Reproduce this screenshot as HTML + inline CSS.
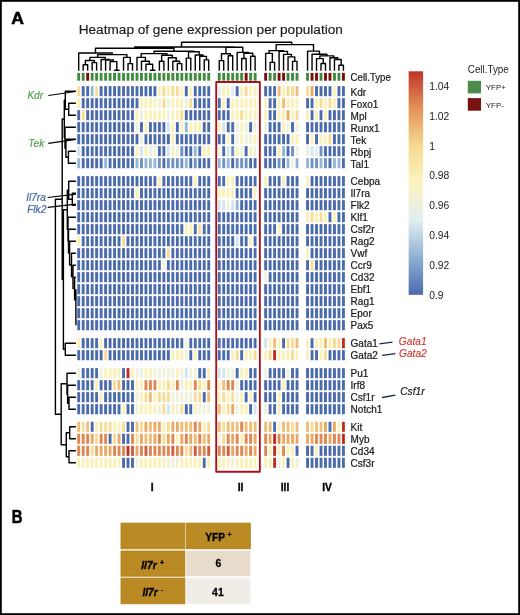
<!DOCTYPE html>
<html><head><meta charset="utf-8"><title>Heatmap</title>
<style>
html,body{margin:0;padding:0;background:#fff;}
body{width:520px;height:615px;overflow:hidden;font-family:"Liberation Sans",sans-serif;}
</style></head><body>
<div style="will-change:transform;width:520px;height:615px">
<svg width="520" height="615" viewBox="0 0 520 615" style="display:block;font-family:'Liberation Sans', sans-serif">
<rect x="0" y="0" width="520" height="615" fill="#fff"/>
<g>
<text x="11.2" y="24.0" font-size="17.4" font-weight="bold" fill="#000" stroke="#000" stroke-width="0.6" textLength="12.7" lengthAdjust="spacingAndGlyphs">A</text>
<text x="78.7" y="34.15" font-size="12.6" fill="#1a1a1a" stroke="#1a1a1a" stroke-width="0.15" textLength="264.2" lengthAdjust="spacingAndGlyphs" transform="translate(0 34.15) scale(1 1.05) translate(0 -34.15)">Heatmap of gene expression per population</text>
<path d="M83.18 70.80V64.70H87.67V70.80M92.15 70.80V62.60H96.63V70.80M85.43 64.70V60.50H94.39V62.60M114.57 70.80V70.20H119.05V70.80M110.08 70.80V61.60H116.81V70.20M105.60 70.80V60.00H113.44V61.60M101.12 70.80V59.50H109.52V60.00M89.91 60.50V57.40H105.32V59.50M128.01 70.80V63.60H132.50V70.80M123.53 70.80V57.40H130.26V63.60M97.61 57.40V54.60H126.89V57.40M78.70 70.80V53.00H112.25V54.60M150.43 70.80V70.20H154.91V70.80M145.95 70.80V64.30H152.67V70.20M141.46 70.80V61.20H149.31V64.30M136.98 70.80V57.40H145.39V61.20M159.40 70.80V61.20H163.88V70.80M177.33 70.80V63.60H181.81V70.80M172.84 70.80V61.20H179.57V63.60M168.36 70.80V57.70H176.21V61.20M161.64 61.20V55.30H172.28V57.70M141.18 57.40V53.60H166.96V55.30M186.29 70.80V58.10H190.78V70.80M204.23 70.80V59.90H208.71V70.80M199.74 70.80V56.40H206.47V59.90M195.26 70.80V55.00H203.10V56.40M188.53 58.10V51.80H199.18V55.00M154.07 53.60V51.20H193.86V51.80M95.48 53.00V48.30H173.97V51.20M219.24 70.80V60.60H223.72V70.80M228.21 70.80V55.70H232.69V70.80M221.48 60.60V53.70H230.45V55.70M241.66 70.80V58.55H246.14V70.80M250.62 70.80V56.20H255.11V70.80M243.90 58.55V53.30H252.86V56.20M237.17 70.80V52.40H248.38V53.30M225.97 53.70V47.20H242.78V52.40M134.72 48.30V46.95H234.37V47.20M270.12 70.80V62.40H274.60V70.80M265.64 70.80V53.40H272.36V62.40M292.54 70.80V61.40H297.02V70.80M288.05 70.80V56.90H294.78V61.40M283.57 70.80V54.40H291.42V56.90M279.09 70.80V51.40H287.49V54.40M269.00 53.40V50.60H283.29V51.40M321.00 70.80V63.50H325.48V70.80M316.52 70.80V58.60H323.24V63.50M338.93 70.80V65.20H343.42V70.80M334.45 70.80V59.50H341.17V65.20M329.97 70.80V57.70H337.81V59.50M319.88 58.60V55.90H333.89V57.70M312.04 70.80V54.20H326.89V55.90M307.55 70.80V51.10H319.46V54.20M276.15 50.60V44.60H313.51V51.10M181.52 46.95V42.30H291.80V44.60" fill="none" stroke="#000" stroke-width="1.4" stroke-linecap="butt" stroke-linejoin="round"/>
<path d="M75.90 103.20H68.70V115.20H75.90M75.90 91.20H65.30V109.20H68.70M75.90 151.20H68.40V163.20H75.90M75.90 139.20H65.90V157.20H68.40M75.90 127.20H65.00V148.20H65.90M65.30 100.20H64.30V137.70H65.00M75.90 193.20H72.30V205.20H75.90M75.90 181.20H68.70V199.20H72.30M75.90 313.20H75.90V325.20H75.90M75.90 301.20H75.90V319.20H75.90M75.90 289.20H75.90V310.20H75.90M75.90 277.20H74.60V299.70H75.90M75.90 265.20H73.00V288.45H74.60M75.90 253.20H71.50V276.82H73.00M75.90 241.20H69.60V265.01H71.50M75.90 229.20H68.50V253.11H69.60M75.90 217.20H68.00V241.15H68.50M68.70 190.20H67.30V229.18H68.00M75.90 343.20H65.30V355.20H75.90M67.30 209.69H63.40V349.20H65.30M64.30 118.95H62.20V279.44H63.40M75.90 397.20H69.00V409.20H75.90M75.90 385.20H67.60V403.20H69.00M75.90 373.20H67.00V394.20H67.60M75.90 426.80H69.70V438.80H75.90M75.90 450.80H69.00V462.80H75.90M69.70 432.80H66.30V456.80H69.00M67.00 383.70H61.20V444.80H66.30M62.20 199.20H55.40V414.25H61.20" fill="none" stroke="#000" stroke-width="1.4" stroke-linecap="butt" stroke-linejoin="round"/>
<rect x="77.26" y="72.9" width="2.88" height="7.8" fill="#3f8a3f"/>
<rect x="81.74" y="72.9" width="2.88" height="7.8" fill="#3f8a3f"/>
<rect x="86.23" y="72.9" width="2.88" height="7.8" fill="#7a0c0c"/>
<rect x="90.71" y="72.9" width="2.88" height="7.8" fill="#3f8a3f"/>
<rect x="95.19" y="72.9" width="2.88" height="7.8" fill="#3f8a3f"/>
<rect x="99.67" y="72.9" width="2.88" height="7.8" fill="#3f8a3f"/>
<rect x="104.16" y="72.9" width="2.88" height="7.8" fill="#3f8a3f"/>
<rect x="108.64" y="72.9" width="2.88" height="7.8" fill="#3f8a3f"/>
<rect x="113.12" y="72.9" width="2.88" height="7.8" fill="#3f8a3f"/>
<rect x="117.61" y="72.9" width="2.88" height="7.8" fill="#3f8a3f"/>
<rect x="122.09" y="72.9" width="2.88" height="7.8" fill="#3f8a3f"/>
<rect x="126.57" y="72.9" width="2.88" height="7.8" fill="#3f8a3f"/>
<rect x="131.06" y="72.9" width="2.88" height="7.8" fill="#3f8a3f"/>
<rect x="135.54" y="72.9" width="2.88" height="7.8" fill="#3f8a3f"/>
<rect x="140.02" y="72.9" width="2.88" height="7.8" fill="#3f8a3f"/>
<rect x="144.50" y="72.9" width="2.88" height="7.8" fill="#3f8a3f"/>
<rect x="148.99" y="72.9" width="2.88" height="7.8" fill="#3f8a3f"/>
<rect x="153.47" y="72.9" width="2.88" height="7.8" fill="#3f8a3f"/>
<rect x="157.95" y="72.9" width="2.88" height="7.8" fill="#3f8a3f"/>
<rect x="162.44" y="72.9" width="2.88" height="7.8" fill="#3f8a3f"/>
<rect x="166.92" y="72.9" width="2.88" height="7.8" fill="#3f8a3f"/>
<rect x="171.40" y="72.9" width="2.88" height="7.8" fill="#3f8a3f"/>
<rect x="175.89" y="72.9" width="2.88" height="7.8" fill="#3f8a3f"/>
<rect x="180.37" y="72.9" width="2.88" height="7.8" fill="#3f8a3f"/>
<rect x="184.85" y="72.9" width="2.88" height="7.8" fill="#3f8a3f"/>
<rect x="189.33" y="72.9" width="2.88" height="7.8" fill="#3f8a3f"/>
<rect x="193.82" y="72.9" width="2.88" height="7.8" fill="#3f8a3f"/>
<rect x="198.30" y="72.9" width="2.88" height="7.8" fill="#3f8a3f"/>
<rect x="202.78" y="72.9" width="2.88" height="7.8" fill="#3f8a3f"/>
<rect x="207.27" y="72.9" width="2.88" height="7.8" fill="#3f8a3f"/>
<rect x="217.80" y="72.9" width="2.88" height="7.8" fill="#3f8a3f"/>
<rect x="222.28" y="72.9" width="2.88" height="7.8" fill="#3f8a3f"/>
<rect x="226.77" y="72.9" width="2.88" height="7.8" fill="#3f8a3f"/>
<rect x="231.25" y="72.9" width="2.88" height="7.8" fill="#3f8a3f"/>
<rect x="235.73" y="72.9" width="2.88" height="7.8" fill="#3f8a3f"/>
<rect x="240.22" y="72.9" width="2.88" height="7.8" fill="#3f8a3f"/>
<rect x="244.70" y="72.9" width="2.88" height="7.8" fill="#7a0c0c"/>
<rect x="249.18" y="72.9" width="2.88" height="7.8" fill="#3f8a3f"/>
<rect x="253.66" y="72.9" width="2.88" height="7.8" fill="#3f8a3f"/>
<rect x="264.20" y="72.9" width="2.88" height="7.8" fill="#7a0c0c"/>
<rect x="268.68" y="72.9" width="2.88" height="7.8" fill="#3f8a3f"/>
<rect x="273.16" y="72.9" width="2.88" height="7.8" fill="#3f8a3f"/>
<rect x="277.65" y="72.9" width="2.88" height="7.8" fill="#7a0c0c"/>
<rect x="282.13" y="72.9" width="2.88" height="7.8" fill="#7a0c0c"/>
<rect x="286.61" y="72.9" width="2.88" height="7.8" fill="#3f8a3f"/>
<rect x="291.10" y="72.9" width="2.88" height="7.8" fill="#3f8a3f"/>
<rect x="295.58" y="72.9" width="2.88" height="7.8" fill="#3f8a3f"/>
<rect x="306.11" y="72.9" width="2.88" height="7.8" fill="#3f8a3f"/>
<rect x="310.59" y="72.9" width="2.88" height="7.8" fill="#7a0c0c"/>
<rect x="315.08" y="72.9" width="2.88" height="7.8" fill="#7a0c0c"/>
<rect x="319.56" y="72.9" width="2.88" height="7.8" fill="#3f8a3f"/>
<rect x="324.04" y="72.9" width="2.88" height="7.8" fill="#7a0c0c"/>
<rect x="328.53" y="72.9" width="2.88" height="7.8" fill="#7a0c0c"/>
<rect x="333.01" y="72.9" width="2.88" height="7.8" fill="#3f8a3f"/>
<rect x="337.49" y="72.9" width="2.88" height="7.8" fill="#3f8a3f"/>
<rect x="341.97" y="72.9" width="2.88" height="7.8" fill="#7a0c0c"/>
<rect x="77.26" y="86.15" width="2.88" height="10.10" fill="#f6dc94"/>
<rect x="81.74" y="86.15" width="2.88" height="10.10" fill="#4a6aae"/>
<rect x="86.23" y="86.15" width="2.88" height="10.10" fill="#4a6aae"/>
<rect x="90.71" y="86.15" width="2.88" height="10.10" fill="#93b6d6"/>
<rect x="95.19" y="86.15" width="2.88" height="10.10" fill="#f6dc94"/>
<rect x="99.67" y="86.15" width="2.88" height="10.10" fill="#4a6aae"/>
<rect x="104.16" y="86.15" width="2.88" height="10.10" fill="#4a6aae"/>
<rect x="108.64" y="86.15" width="2.88" height="10.10" fill="#4a6aae"/>
<rect x="113.12" y="86.15" width="2.88" height="10.10" fill="#4a6aae"/>
<rect x="117.61" y="86.15" width="2.88" height="10.10" fill="#4a6aae"/>
<rect x="122.09" y="86.15" width="2.88" height="10.10" fill="#4a6aae"/>
<rect x="126.57" y="86.15" width="2.88" height="10.10" fill="#4a6aae"/>
<rect x="131.06" y="86.15" width="2.88" height="10.10" fill="#4a6aae"/>
<rect x="135.54" y="86.15" width="2.88" height="10.10" fill="#4a6aae"/>
<rect x="140.02" y="86.15" width="2.88" height="10.10" fill="#4a6aae"/>
<rect x="144.50" y="86.15" width="2.88" height="10.10" fill="#4a6aae"/>
<rect x="148.99" y="86.15" width="2.88" height="10.10" fill="#4a6aae"/>
<rect x="153.47" y="86.15" width="2.88" height="10.10" fill="#4a6aae"/>
<rect x="157.95" y="86.15" width="2.88" height="10.10" fill="#faf1b8"/>
<rect x="162.44" y="86.15" width="2.88" height="10.10" fill="#f6dc94"/>
<rect x="166.92" y="86.15" width="2.88" height="10.10" fill="#faf1b8"/>
<rect x="171.40" y="86.15" width="2.88" height="10.10" fill="#f6dc94"/>
<rect x="175.89" y="86.15" width="2.88" height="10.10" fill="#f6dc94"/>
<rect x="180.37" y="86.15" width="2.88" height="10.10" fill="#faf1b8"/>
<rect x="184.85" y="86.15" width="2.88" height="10.10" fill="#4a6aae"/>
<rect x="189.33" y="86.15" width="2.88" height="10.10" fill="#faf1b8"/>
<rect x="193.82" y="86.15" width="2.88" height="10.10" fill="#4a6aae"/>
<rect x="198.30" y="86.15" width="2.88" height="10.10" fill="#4a6aae"/>
<rect x="202.78" y="86.15" width="2.88" height="10.10" fill="#4a6aae"/>
<rect x="207.27" y="86.15" width="2.88" height="10.10" fill="#4a6aae"/>
<rect x="217.80" y="86.15" width="2.88" height="10.10" fill="#e2eef0"/>
<rect x="222.28" y="86.15" width="2.88" height="10.10" fill="#faf1b8"/>
<rect x="226.77" y="86.15" width="2.88" height="10.10" fill="#faf1b8"/>
<rect x="231.25" y="86.15" width="2.88" height="10.10" fill="#e2eef0"/>
<rect x="235.73" y="86.15" width="2.88" height="10.10" fill="#4a6aae"/>
<rect x="240.22" y="86.15" width="2.88" height="10.10" fill="#faf1b8"/>
<rect x="244.70" y="86.15" width="2.88" height="10.10" fill="#f6dc94"/>
<rect x="249.18" y="86.15" width="2.88" height="10.10" fill="#faf1b8"/>
<rect x="253.66" y="86.15" width="2.88" height="10.10" fill="#faf1b8"/>
<rect x="264.20" y="86.15" width="2.88" height="10.10" fill="#4a6aae"/>
<rect x="268.68" y="86.15" width="2.88" height="10.10" fill="#4a6aae"/>
<rect x="273.16" y="86.15" width="2.88" height="10.10" fill="#4a6aae"/>
<rect x="277.65" y="86.15" width="2.88" height="10.10" fill="#efbd77"/>
<rect x="282.13" y="86.15" width="2.88" height="10.10" fill="#faf1b8"/>
<rect x="286.61" y="86.15" width="2.88" height="10.10" fill="#f6dc94"/>
<rect x="291.10" y="86.15" width="2.88" height="10.10" fill="#f6dc94"/>
<rect x="295.58" y="86.15" width="2.88" height="10.10" fill="#efbd77"/>
<rect x="306.11" y="86.15" width="2.88" height="10.10" fill="#f6dc94"/>
<rect x="310.59" y="86.15" width="2.88" height="10.10" fill="#eba862"/>
<rect x="315.08" y="86.15" width="2.88" height="10.10" fill="#4a6aae"/>
<rect x="319.56" y="86.15" width="2.88" height="10.10" fill="#4a6aae"/>
<rect x="324.04" y="86.15" width="2.88" height="10.10" fill="#4a6aae"/>
<rect x="328.53" y="86.15" width="2.88" height="10.10" fill="#4a6aae"/>
<rect x="333.01" y="86.15" width="2.88" height="10.10" fill="#faf1b8"/>
<rect x="337.49" y="86.15" width="2.88" height="10.10" fill="#4a6aae"/>
<rect x="341.97" y="86.15" width="2.88" height="10.10" fill="#4a6aae"/>
<rect x="77.26" y="98.15" width="2.88" height="10.10" fill="#faf1b8"/>
<rect x="81.74" y="98.15" width="2.88" height="10.10" fill="#4a6aae"/>
<rect x="86.23" y="98.15" width="2.88" height="10.10" fill="#4a6aae"/>
<rect x="90.71" y="98.15" width="2.88" height="10.10" fill="#4a6aae"/>
<rect x="95.19" y="98.15" width="2.88" height="10.10" fill="#4a6aae"/>
<rect x="99.67" y="98.15" width="2.88" height="10.10" fill="#4a6aae"/>
<rect x="104.16" y="98.15" width="2.88" height="10.10" fill="#4a6aae"/>
<rect x="108.64" y="98.15" width="2.88" height="10.10" fill="#4a6aae"/>
<rect x="113.12" y="98.15" width="2.88" height="10.10" fill="#4a6aae"/>
<rect x="117.61" y="98.15" width="2.88" height="10.10" fill="#4a6aae"/>
<rect x="122.09" y="98.15" width="2.88" height="10.10" fill="#4a6aae"/>
<rect x="126.57" y="98.15" width="2.88" height="10.10" fill="#4a6aae"/>
<rect x="131.06" y="98.15" width="2.88" height="10.10" fill="#4a6aae"/>
<rect x="135.54" y="98.15" width="2.88" height="10.10" fill="#4a6aae"/>
<rect x="140.02" y="98.15" width="2.88" height="10.10" fill="#faf1b8"/>
<rect x="144.50" y="98.15" width="2.88" height="10.10" fill="#faf1b8"/>
<rect x="148.99" y="98.15" width="2.88" height="10.10" fill="#faf1b8"/>
<rect x="153.47" y="98.15" width="2.88" height="10.10" fill="#faf1b8"/>
<rect x="157.95" y="98.15" width="2.88" height="10.10" fill="#eef1dc"/>
<rect x="162.44" y="98.15" width="2.88" height="10.10" fill="#f6dc94"/>
<rect x="166.92" y="98.15" width="2.88" height="10.10" fill="#eef1dc"/>
<rect x="171.40" y="98.15" width="2.88" height="10.10" fill="#faf1b8"/>
<rect x="175.89" y="98.15" width="2.88" height="10.10" fill="#faf1b8"/>
<rect x="180.37" y="98.15" width="2.88" height="10.10" fill="#faf1b8"/>
<rect x="184.85" y="98.15" width="2.88" height="10.10" fill="#eef1dc"/>
<rect x="189.33" y="98.15" width="2.88" height="10.10" fill="#f6dc94"/>
<rect x="193.82" y="98.15" width="2.88" height="10.10" fill="#4a6aae"/>
<rect x="198.30" y="98.15" width="2.88" height="10.10" fill="#4a6aae"/>
<rect x="202.78" y="98.15" width="2.88" height="10.10" fill="#4a6aae"/>
<rect x="207.27" y="98.15" width="2.88" height="10.10" fill="#4a6aae"/>
<rect x="217.80" y="98.15" width="2.88" height="10.10" fill="#4a6aae"/>
<rect x="222.28" y="98.15" width="2.88" height="10.10" fill="#faf1b8"/>
<rect x="226.77" y="98.15" width="2.88" height="10.10" fill="#4a6aae"/>
<rect x="231.25" y="98.15" width="2.88" height="10.10" fill="#faf1b8"/>
<rect x="235.73" y="98.15" width="2.88" height="10.10" fill="#faf1b8"/>
<rect x="240.22" y="98.15" width="2.88" height="10.10" fill="#faf1b8"/>
<rect x="244.70" y="98.15" width="2.88" height="10.10" fill="#faf1b8"/>
<rect x="249.18" y="98.15" width="2.88" height="10.10" fill="#faf1b8"/>
<rect x="253.66" y="98.15" width="2.88" height="10.10" fill="#faf1b8"/>
<rect x="264.20" y="98.15" width="2.88" height="10.10" fill="#faf1b8"/>
<rect x="268.68" y="98.15" width="2.88" height="10.10" fill="#4a6aae"/>
<rect x="273.16" y="98.15" width="2.88" height="10.10" fill="#4a6aae"/>
<rect x="277.65" y="98.15" width="2.88" height="10.10" fill="#faf1b8"/>
<rect x="282.13" y="98.15" width="2.88" height="10.10" fill="#efbd77"/>
<rect x="286.61" y="98.15" width="2.88" height="10.10" fill="#faf1b8"/>
<rect x="291.10" y="98.15" width="2.88" height="10.10" fill="#faf1b8"/>
<rect x="295.58" y="98.15" width="2.88" height="10.10" fill="#faf1b8"/>
<rect x="306.11" y="98.15" width="2.88" height="10.10" fill="#4a6aae"/>
<rect x="310.59" y="98.15" width="2.88" height="10.10" fill="#4a6aae"/>
<rect x="315.08" y="98.15" width="2.88" height="10.10" fill="#faf1b8"/>
<rect x="319.56" y="98.15" width="2.88" height="10.10" fill="#f6dc94"/>
<rect x="324.04" y="98.15" width="2.88" height="10.10" fill="#faf1b8"/>
<rect x="328.53" y="98.15" width="2.88" height="10.10" fill="#f6dc94"/>
<rect x="333.01" y="98.15" width="2.88" height="10.10" fill="#faf1b8"/>
<rect x="337.49" y="98.15" width="2.88" height="10.10" fill="#4a6aae"/>
<rect x="341.97" y="98.15" width="2.88" height="10.10" fill="#4a6aae"/>
<rect x="77.26" y="110.15" width="2.88" height="10.10" fill="#4a6aae"/>
<rect x="81.74" y="110.15" width="2.88" height="10.10" fill="#f6dc94"/>
<rect x="86.23" y="110.15" width="2.88" height="10.10" fill="#4a6aae"/>
<rect x="90.71" y="110.15" width="2.88" height="10.10" fill="#4a6aae"/>
<rect x="95.19" y="110.15" width="2.88" height="10.10" fill="#4a6aae"/>
<rect x="99.67" y="110.15" width="2.88" height="10.10" fill="#4a6aae"/>
<rect x="104.16" y="110.15" width="2.88" height="10.10" fill="#4a6aae"/>
<rect x="108.64" y="110.15" width="2.88" height="10.10" fill="#4a6aae"/>
<rect x="113.12" y="110.15" width="2.88" height="10.10" fill="#4a6aae"/>
<rect x="117.61" y="110.15" width="2.88" height="10.10" fill="#4a6aae"/>
<rect x="122.09" y="110.15" width="2.88" height="10.10" fill="#4a6aae"/>
<rect x="126.57" y="110.15" width="2.88" height="10.10" fill="#4a6aae"/>
<rect x="131.06" y="110.15" width="2.88" height="10.10" fill="#4a6aae"/>
<rect x="135.54" y="110.15" width="2.88" height="10.10" fill="#faf1b8"/>
<rect x="140.02" y="110.15" width="2.88" height="10.10" fill="#eef1dc"/>
<rect x="144.50" y="110.15" width="2.88" height="10.10" fill="#faf1b8"/>
<rect x="148.99" y="110.15" width="2.88" height="10.10" fill="#faf1b8"/>
<rect x="153.47" y="110.15" width="2.88" height="10.10" fill="#faf1b8"/>
<rect x="157.95" y="110.15" width="2.88" height="10.10" fill="#faf1b8"/>
<rect x="162.44" y="110.15" width="2.88" height="10.10" fill="#faf1b8"/>
<rect x="166.92" y="110.15" width="2.88" height="10.10" fill="#eef1dc"/>
<rect x="171.40" y="110.15" width="2.88" height="10.10" fill="#faf1b8"/>
<rect x="175.89" y="110.15" width="2.88" height="10.10" fill="#faf1b8"/>
<rect x="180.37" y="110.15" width="2.88" height="10.10" fill="#f6dc94"/>
<rect x="184.85" y="110.15" width="2.88" height="10.10" fill="#4a6aae"/>
<rect x="189.33" y="110.15" width="2.88" height="10.10" fill="#4a6aae"/>
<rect x="193.82" y="110.15" width="2.88" height="10.10" fill="#4a6aae"/>
<rect x="198.30" y="110.15" width="2.88" height="10.10" fill="#4a6aae"/>
<rect x="202.78" y="110.15" width="2.88" height="10.10" fill="#4a6aae"/>
<rect x="207.27" y="110.15" width="2.88" height="10.10" fill="#4a6aae"/>
<rect x="217.80" y="110.15" width="2.88" height="10.10" fill="#4a6aae"/>
<rect x="222.28" y="110.15" width="2.88" height="10.10" fill="#4a6aae"/>
<rect x="226.77" y="110.15" width="2.88" height="10.10" fill="#4a6aae"/>
<rect x="231.25" y="110.15" width="2.88" height="10.10" fill="#faf1b8"/>
<rect x="235.73" y="110.15" width="2.88" height="10.10" fill="#faf1b8"/>
<rect x="240.22" y="110.15" width="2.88" height="10.10" fill="#f6dc94"/>
<rect x="244.70" y="110.15" width="2.88" height="10.10" fill="#faf1b8"/>
<rect x="249.18" y="110.15" width="2.88" height="10.10" fill="#faf1b8"/>
<rect x="253.66" y="110.15" width="2.88" height="10.10" fill="#faf1b8"/>
<rect x="264.20" y="110.15" width="2.88" height="10.10" fill="#faf1b8"/>
<rect x="268.68" y="110.15" width="2.88" height="10.10" fill="#4a6aae"/>
<rect x="273.16" y="110.15" width="2.88" height="10.10" fill="#4a6aae"/>
<rect x="277.65" y="110.15" width="2.88" height="10.10" fill="#faf1b8"/>
<rect x="282.13" y="110.15" width="2.88" height="10.10" fill="#faf1b8"/>
<rect x="286.61" y="110.15" width="2.88" height="10.10" fill="#eba862"/>
<rect x="291.10" y="110.15" width="2.88" height="10.10" fill="#faf1b8"/>
<rect x="295.58" y="110.15" width="2.88" height="10.10" fill="#f6dc94"/>
<rect x="306.11" y="110.15" width="2.88" height="10.10" fill="#faf1b8"/>
<rect x="310.59" y="110.15" width="2.88" height="10.10" fill="#4a6aae"/>
<rect x="315.08" y="110.15" width="2.88" height="10.10" fill="#faf1b8"/>
<rect x="319.56" y="110.15" width="2.88" height="10.10" fill="#4a6aae"/>
<rect x="324.04" y="110.15" width="2.88" height="10.10" fill="#faf1b8"/>
<rect x="328.53" y="110.15" width="2.88" height="10.10" fill="#4a6aae"/>
<rect x="333.01" y="110.15" width="2.88" height="10.10" fill="#4a6aae"/>
<rect x="337.49" y="110.15" width="2.88" height="10.10" fill="#4a6aae"/>
<rect x="341.97" y="110.15" width="2.88" height="10.10" fill="#4a6aae"/>
<rect x="77.26" y="122.15" width="2.88" height="10.10" fill="#4a6aae"/>
<rect x="81.74" y="122.15" width="2.88" height="10.10" fill="#4a6aae"/>
<rect x="86.23" y="122.15" width="2.88" height="10.10" fill="#4a6aae"/>
<rect x="90.71" y="122.15" width="2.88" height="10.10" fill="#4a6aae"/>
<rect x="95.19" y="122.15" width="2.88" height="10.10" fill="#4a6aae"/>
<rect x="99.67" y="122.15" width="2.88" height="10.10" fill="#4a6aae"/>
<rect x="104.16" y="122.15" width="2.88" height="10.10" fill="#4a6aae"/>
<rect x="108.64" y="122.15" width="2.88" height="10.10" fill="#4a6aae"/>
<rect x="113.12" y="122.15" width="2.88" height="10.10" fill="#4a6aae"/>
<rect x="117.61" y="122.15" width="2.88" height="10.10" fill="#4a6aae"/>
<rect x="122.09" y="122.15" width="2.88" height="10.10" fill="#4a6aae"/>
<rect x="126.57" y="122.15" width="2.88" height="10.10" fill="#4a6aae"/>
<rect x="131.06" y="122.15" width="2.88" height="10.10" fill="#4a6aae"/>
<rect x="135.54" y="122.15" width="2.88" height="10.10" fill="#eef1dc"/>
<rect x="140.02" y="122.15" width="2.88" height="10.10" fill="#4a6aae"/>
<rect x="144.50" y="122.15" width="2.88" height="10.10" fill="#faf1b8"/>
<rect x="148.99" y="122.15" width="2.88" height="10.10" fill="#4a6aae"/>
<rect x="153.47" y="122.15" width="2.88" height="10.10" fill="#4a6aae"/>
<rect x="157.95" y="122.15" width="2.88" height="10.10" fill="#4a6aae"/>
<rect x="162.44" y="122.15" width="2.88" height="10.10" fill="#4a6aae"/>
<rect x="166.92" y="122.15" width="2.88" height="10.10" fill="#d3e4ef"/>
<rect x="171.40" y="122.15" width="2.88" height="10.10" fill="#faf1b8"/>
<rect x="175.89" y="122.15" width="2.88" height="10.10" fill="#4a6aae"/>
<rect x="180.37" y="122.15" width="2.88" height="10.10" fill="#faf1b8"/>
<rect x="184.85" y="122.15" width="2.88" height="10.10" fill="#93b6d6"/>
<rect x="189.33" y="122.15" width="2.88" height="10.10" fill="#faf1b8"/>
<rect x="193.82" y="122.15" width="2.88" height="10.10" fill="#faf1b8"/>
<rect x="198.30" y="122.15" width="2.88" height="10.10" fill="#faf1b8"/>
<rect x="202.78" y="122.15" width="2.88" height="10.10" fill="#4a6aae"/>
<rect x="207.27" y="122.15" width="2.88" height="10.10" fill="#4a6aae"/>
<rect x="217.80" y="122.15" width="2.88" height="10.10" fill="#faf1b8"/>
<rect x="222.28" y="122.15" width="2.88" height="10.10" fill="#d3e4ef"/>
<rect x="226.77" y="122.15" width="2.88" height="10.10" fill="#4a6aae"/>
<rect x="231.25" y="122.15" width="2.88" height="10.10" fill="#4a6aae"/>
<rect x="235.73" y="122.15" width="2.88" height="10.10" fill="#eef1dc"/>
<rect x="240.22" y="122.15" width="2.88" height="10.10" fill="#faf1b8"/>
<rect x="244.70" y="122.15" width="2.88" height="10.10" fill="#eef1dc"/>
<rect x="249.18" y="122.15" width="2.88" height="10.10" fill="#4a6aae"/>
<rect x="253.66" y="122.15" width="2.88" height="10.10" fill="#eef1dc"/>
<rect x="264.20" y="122.15" width="2.88" height="10.10" fill="#eef1dc"/>
<rect x="268.68" y="122.15" width="2.88" height="10.10" fill="#4a6aae"/>
<rect x="273.16" y="122.15" width="2.88" height="10.10" fill="#4a6aae"/>
<rect x="277.65" y="122.15" width="2.88" height="10.10" fill="#4a6aae"/>
<rect x="282.13" y="122.15" width="2.88" height="10.10" fill="#faf1b8"/>
<rect x="286.61" y="122.15" width="2.88" height="10.10" fill="#eef1dc"/>
<rect x="291.10" y="122.15" width="2.88" height="10.10" fill="#4a6aae"/>
<rect x="295.58" y="122.15" width="2.88" height="10.10" fill="#eef1dc"/>
<rect x="306.11" y="122.15" width="2.88" height="10.10" fill="#4a6aae"/>
<rect x="310.59" y="122.15" width="2.88" height="10.10" fill="#4a6aae"/>
<rect x="315.08" y="122.15" width="2.88" height="10.10" fill="#4a6aae"/>
<rect x="319.56" y="122.15" width="2.88" height="10.10" fill="#4a6aae"/>
<rect x="324.04" y="122.15" width="2.88" height="10.10" fill="#4a6aae"/>
<rect x="328.53" y="122.15" width="2.88" height="10.10" fill="#4a6aae"/>
<rect x="333.01" y="122.15" width="2.88" height="10.10" fill="#4a6aae"/>
<rect x="337.49" y="122.15" width="2.88" height="10.10" fill="#4a6aae"/>
<rect x="341.97" y="122.15" width="2.88" height="10.10" fill="#4a6aae"/>
<rect x="77.26" y="134.15" width="2.88" height="10.10" fill="#4a6aae"/>
<rect x="81.74" y="134.15" width="2.88" height="10.10" fill="#4a6aae"/>
<rect x="86.23" y="134.15" width="2.88" height="10.10" fill="#4a6aae"/>
<rect x="90.71" y="134.15" width="2.88" height="10.10" fill="#4a6aae"/>
<rect x="95.19" y="134.15" width="2.88" height="10.10" fill="#4a6aae"/>
<rect x="99.67" y="134.15" width="2.88" height="10.10" fill="#4a6aae"/>
<rect x="104.16" y="134.15" width="2.88" height="10.10" fill="#4a6aae"/>
<rect x="108.64" y="134.15" width="2.88" height="10.10" fill="#4a6aae"/>
<rect x="113.12" y="134.15" width="2.88" height="10.10" fill="#4a6aae"/>
<rect x="117.61" y="134.15" width="2.88" height="10.10" fill="#4a6aae"/>
<rect x="122.09" y="134.15" width="2.88" height="10.10" fill="#4a6aae"/>
<rect x="126.57" y="134.15" width="2.88" height="10.10" fill="#4a6aae"/>
<rect x="131.06" y="134.15" width="2.88" height="10.10" fill="#4a6aae"/>
<rect x="135.54" y="134.15" width="2.88" height="10.10" fill="#4a6aae"/>
<rect x="140.02" y="134.15" width="2.88" height="10.10" fill="#eef1dc"/>
<rect x="144.50" y="134.15" width="2.88" height="10.10" fill="#4a6aae"/>
<rect x="148.99" y="134.15" width="2.88" height="10.10" fill="#4a6aae"/>
<rect x="153.47" y="134.15" width="2.88" height="10.10" fill="#4a6aae"/>
<rect x="157.95" y="134.15" width="2.88" height="10.10" fill="#4a6aae"/>
<rect x="162.44" y="134.15" width="2.88" height="10.10" fill="#4a6aae"/>
<rect x="166.92" y="134.15" width="2.88" height="10.10" fill="#4a6aae"/>
<rect x="171.40" y="134.15" width="2.88" height="10.10" fill="#faf1b8"/>
<rect x="175.89" y="134.15" width="2.88" height="10.10" fill="#4a6aae"/>
<rect x="180.37" y="134.15" width="2.88" height="10.10" fill="#4a6aae"/>
<rect x="184.85" y="134.15" width="2.88" height="10.10" fill="#4a6aae"/>
<rect x="189.33" y="134.15" width="2.88" height="10.10" fill="#4a6aae"/>
<rect x="193.82" y="134.15" width="2.88" height="10.10" fill="#4a6aae"/>
<rect x="198.30" y="134.15" width="2.88" height="10.10" fill="#4a6aae"/>
<rect x="202.78" y="134.15" width="2.88" height="10.10" fill="#4a6aae"/>
<rect x="207.27" y="134.15" width="2.88" height="10.10" fill="#4a6aae"/>
<rect x="217.80" y="134.15" width="2.88" height="10.10" fill="#4a6aae"/>
<rect x="222.28" y="134.15" width="2.88" height="10.10" fill="#4a6aae"/>
<rect x="226.77" y="134.15" width="2.88" height="10.10" fill="#faf1b8"/>
<rect x="231.25" y="134.15" width="2.88" height="10.10" fill="#4a6aae"/>
<rect x="235.73" y="134.15" width="2.88" height="10.10" fill="#eef1dc"/>
<rect x="240.22" y="134.15" width="2.88" height="10.10" fill="#faf1b8"/>
<rect x="244.70" y="134.15" width="2.88" height="10.10" fill="#eef1dc"/>
<rect x="249.18" y="134.15" width="2.88" height="10.10" fill="#eef1dc"/>
<rect x="253.66" y="134.15" width="2.88" height="10.10" fill="#faf1b8"/>
<rect x="264.20" y="134.15" width="2.88" height="10.10" fill="#4a6aae"/>
<rect x="268.68" y="134.15" width="2.88" height="10.10" fill="#4a6aae"/>
<rect x="273.16" y="134.15" width="2.88" height="10.10" fill="#4a6aae"/>
<rect x="277.65" y="134.15" width="2.88" height="10.10" fill="#4a6aae"/>
<rect x="282.13" y="134.15" width="2.88" height="10.10" fill="#4a6aae"/>
<rect x="286.61" y="134.15" width="2.88" height="10.10" fill="#4a6aae"/>
<rect x="291.10" y="134.15" width="2.88" height="10.10" fill="#faf1b8"/>
<rect x="295.58" y="134.15" width="2.88" height="10.10" fill="#faf1b8"/>
<rect x="306.11" y="134.15" width="2.88" height="10.10" fill="#4a6aae"/>
<rect x="310.59" y="134.15" width="2.88" height="10.10" fill="#faf1b8"/>
<rect x="315.08" y="134.15" width="2.88" height="10.10" fill="#4a6aae"/>
<rect x="319.56" y="134.15" width="2.88" height="10.10" fill="#faf1b8"/>
<rect x="324.04" y="134.15" width="2.88" height="10.10" fill="#faf1b8"/>
<rect x="328.53" y="134.15" width="2.88" height="10.10" fill="#f6dc94"/>
<rect x="333.01" y="134.15" width="2.88" height="10.10" fill="#4a6aae"/>
<rect x="337.49" y="134.15" width="2.88" height="10.10" fill="#4a6aae"/>
<rect x="341.97" y="134.15" width="2.88" height="10.10" fill="#4a6aae"/>
<rect x="77.26" y="146.15" width="2.88" height="10.10" fill="#d3e4ef"/>
<rect x="81.74" y="146.15" width="2.88" height="10.10" fill="#4a6aae"/>
<rect x="86.23" y="146.15" width="2.88" height="10.10" fill="#4a6aae"/>
<rect x="90.71" y="146.15" width="2.88" height="10.10" fill="#4a6aae"/>
<rect x="95.19" y="146.15" width="2.88" height="10.10" fill="#4a6aae"/>
<rect x="99.67" y="146.15" width="2.88" height="10.10" fill="#4a6aae"/>
<rect x="104.16" y="146.15" width="2.88" height="10.10" fill="#4a6aae"/>
<rect x="108.64" y="146.15" width="2.88" height="10.10" fill="#4a6aae"/>
<rect x="113.12" y="146.15" width="2.88" height="10.10" fill="#4a6aae"/>
<rect x="117.61" y="146.15" width="2.88" height="10.10" fill="#4a6aae"/>
<rect x="122.09" y="146.15" width="2.88" height="10.10" fill="#4a6aae"/>
<rect x="126.57" y="146.15" width="2.88" height="10.10" fill="#4a6aae"/>
<rect x="131.06" y="146.15" width="2.88" height="10.10" fill="#4a6aae"/>
<rect x="135.54" y="146.15" width="2.88" height="10.10" fill="#faf1b8"/>
<rect x="140.02" y="146.15" width="2.88" height="10.10" fill="#d3e4ef"/>
<rect x="144.50" y="146.15" width="2.88" height="10.10" fill="#faf1b8"/>
<rect x="148.99" y="146.15" width="2.88" height="10.10" fill="#eef1dc"/>
<rect x="153.47" y="146.15" width="2.88" height="10.10" fill="#eef1dc"/>
<rect x="157.95" y="146.15" width="2.88" height="10.10" fill="#4a6aae"/>
<rect x="162.44" y="146.15" width="2.88" height="10.10" fill="#4a6aae"/>
<rect x="166.92" y="146.15" width="2.88" height="10.10" fill="#d3e4ef"/>
<rect x="171.40" y="146.15" width="2.88" height="10.10" fill="#faf1b8"/>
<rect x="175.89" y="146.15" width="2.88" height="10.10" fill="#eef1dc"/>
<rect x="180.37" y="146.15" width="2.88" height="10.10" fill="#6f90c2"/>
<rect x="184.85" y="146.15" width="2.88" height="10.10" fill="#4a6aae"/>
<rect x="189.33" y="146.15" width="2.88" height="10.10" fill="#4a6aae"/>
<rect x="193.82" y="146.15" width="2.88" height="10.10" fill="#93b6d6"/>
<rect x="198.30" y="146.15" width="2.88" height="10.10" fill="#4a6aae"/>
<rect x="202.78" y="146.15" width="2.88" height="10.10" fill="#faf1b8"/>
<rect x="207.27" y="146.15" width="2.88" height="10.10" fill="#faf1b8"/>
<rect x="217.80" y="146.15" width="2.88" height="10.10" fill="#eef1dc"/>
<rect x="222.28" y="146.15" width="2.88" height="10.10" fill="#4a6aae"/>
<rect x="226.77" y="146.15" width="2.88" height="10.10" fill="#d3e4ef"/>
<rect x="231.25" y="146.15" width="2.88" height="10.10" fill="#6f90c2"/>
<rect x="235.73" y="146.15" width="2.88" height="10.10" fill="#faf1b8"/>
<rect x="240.22" y="146.15" width="2.88" height="10.10" fill="#eef1dc"/>
<rect x="244.70" y="146.15" width="2.88" height="10.10" fill="#4a6aae"/>
<rect x="249.18" y="146.15" width="2.88" height="10.10" fill="#faf1b8"/>
<rect x="253.66" y="146.15" width="2.88" height="10.10" fill="#eef1dc"/>
<rect x="264.20" y="146.15" width="2.88" height="10.10" fill="#4a6aae"/>
<rect x="268.68" y="146.15" width="2.88" height="10.10" fill="#4a6aae"/>
<rect x="273.16" y="146.15" width="2.88" height="10.10" fill="#4a6aae"/>
<rect x="277.65" y="146.15" width="2.88" height="10.10" fill="#faf1b8"/>
<rect x="282.13" y="146.15" width="2.88" height="10.10" fill="#93b6d6"/>
<rect x="286.61" y="146.15" width="2.88" height="10.10" fill="#4a6aae"/>
<rect x="291.10" y="146.15" width="2.88" height="10.10" fill="#6f90c2"/>
<rect x="295.58" y="146.15" width="2.88" height="10.10" fill="#eef1dc"/>
<rect x="306.11" y="146.15" width="2.88" height="10.10" fill="#eef1dc"/>
<rect x="310.59" y="146.15" width="2.88" height="10.10" fill="#d3e4ef"/>
<rect x="315.08" y="146.15" width="2.88" height="10.10" fill="#e2eef0"/>
<rect x="319.56" y="146.15" width="2.88" height="10.10" fill="#6f90c2"/>
<rect x="324.04" y="146.15" width="2.88" height="10.10" fill="#4a6aae"/>
<rect x="328.53" y="146.15" width="2.88" height="10.10" fill="#4a6aae"/>
<rect x="333.01" y="146.15" width="2.88" height="10.10" fill="#4a6aae"/>
<rect x="337.49" y="146.15" width="2.88" height="10.10" fill="#4a6aae"/>
<rect x="341.97" y="146.15" width="2.88" height="10.10" fill="#4a6aae"/>
<rect x="77.26" y="158.15" width="2.88" height="10.10" fill="#93b6d6"/>
<rect x="81.74" y="158.15" width="2.88" height="10.10" fill="#4a6aae"/>
<rect x="86.23" y="158.15" width="2.88" height="10.10" fill="#4a6aae"/>
<rect x="90.71" y="158.15" width="2.88" height="10.10" fill="#4a6aae"/>
<rect x="95.19" y="158.15" width="2.88" height="10.10" fill="#4a6aae"/>
<rect x="99.67" y="158.15" width="2.88" height="10.10" fill="#4a6aae"/>
<rect x="104.16" y="158.15" width="2.88" height="10.10" fill="#93b6d6"/>
<rect x="108.64" y="158.15" width="2.88" height="10.10" fill="#4a6aae"/>
<rect x="113.12" y="158.15" width="2.88" height="10.10" fill="#4a6aae"/>
<rect x="117.61" y="158.15" width="2.88" height="10.10" fill="#4a6aae"/>
<rect x="122.09" y="158.15" width="2.88" height="10.10" fill="#4a6aae"/>
<rect x="126.57" y="158.15" width="2.88" height="10.10" fill="#4a6aae"/>
<rect x="131.06" y="158.15" width="2.88" height="10.10" fill="#4a6aae"/>
<rect x="135.54" y="158.15" width="2.88" height="10.10" fill="#93b6d6"/>
<rect x="140.02" y="158.15" width="2.88" height="10.10" fill="#6f90c2"/>
<rect x="144.50" y="158.15" width="2.88" height="10.10" fill="#93b6d6"/>
<rect x="148.99" y="158.15" width="2.88" height="10.10" fill="#93b6d6"/>
<rect x="153.47" y="158.15" width="2.88" height="10.10" fill="#93b6d6"/>
<rect x="157.95" y="158.15" width="2.88" height="10.10" fill="#6f90c2"/>
<rect x="162.44" y="158.15" width="2.88" height="10.10" fill="#4a6aae"/>
<rect x="166.92" y="158.15" width="2.88" height="10.10" fill="#6f90c2"/>
<rect x="171.40" y="158.15" width="2.88" height="10.10" fill="#6f90c2"/>
<rect x="175.89" y="158.15" width="2.88" height="10.10" fill="#6f90c2"/>
<rect x="180.37" y="158.15" width="2.88" height="10.10" fill="#6f90c2"/>
<rect x="184.85" y="158.15" width="2.88" height="10.10" fill="#93b6d6"/>
<rect x="189.33" y="158.15" width="2.88" height="10.10" fill="#4a6aae"/>
<rect x="193.82" y="158.15" width="2.88" height="10.10" fill="#6f90c2"/>
<rect x="198.30" y="158.15" width="2.88" height="10.10" fill="#4a6aae"/>
<rect x="202.78" y="158.15" width="2.88" height="10.10" fill="#4a6aae"/>
<rect x="207.27" y="158.15" width="2.88" height="10.10" fill="#4a6aae"/>
<rect x="217.80" y="158.15" width="2.88" height="10.10" fill="#93b6d6"/>
<rect x="222.28" y="158.15" width="2.88" height="10.10" fill="#6f90c2"/>
<rect x="226.77" y="158.15" width="2.88" height="10.10" fill="#93b6d6"/>
<rect x="231.25" y="158.15" width="2.88" height="10.10" fill="#4a6aae"/>
<rect x="235.73" y="158.15" width="2.88" height="10.10" fill="#6f90c2"/>
<rect x="240.22" y="158.15" width="2.88" height="10.10" fill="#6f90c2"/>
<rect x="244.70" y="158.15" width="2.88" height="10.10" fill="#6f90c2"/>
<rect x="249.18" y="158.15" width="2.88" height="10.10" fill="#4a6aae"/>
<rect x="253.66" y="158.15" width="2.88" height="10.10" fill="#4a6aae"/>
<rect x="264.20" y="158.15" width="2.88" height="10.10" fill="#4a6aae"/>
<rect x="268.68" y="158.15" width="2.88" height="10.10" fill="#4a6aae"/>
<rect x="273.16" y="158.15" width="2.88" height="10.10" fill="#4a6aae"/>
<rect x="277.65" y="158.15" width="2.88" height="10.10" fill="#6f90c2"/>
<rect x="282.13" y="158.15" width="2.88" height="10.10" fill="#4a6aae"/>
<rect x="286.61" y="158.15" width="2.88" height="10.10" fill="#93b6d6"/>
<rect x="291.10" y="158.15" width="2.88" height="10.10" fill="#eef1dc"/>
<rect x="295.58" y="158.15" width="2.88" height="10.10" fill="#93b6d6"/>
<rect x="306.11" y="158.15" width="2.88" height="10.10" fill="#93b6d6"/>
<rect x="310.59" y="158.15" width="2.88" height="10.10" fill="#6f90c2"/>
<rect x="315.08" y="158.15" width="2.88" height="10.10" fill="#6f90c2"/>
<rect x="319.56" y="158.15" width="2.88" height="10.10" fill="#93b6d6"/>
<rect x="324.04" y="158.15" width="2.88" height="10.10" fill="#6f90c2"/>
<rect x="328.53" y="158.15" width="2.88" height="10.10" fill="#4a6aae"/>
<rect x="333.01" y="158.15" width="2.88" height="10.10" fill="#93b6d6"/>
<rect x="337.49" y="158.15" width="2.88" height="10.10" fill="#93b6d6"/>
<rect x="341.97" y="158.15" width="2.88" height="10.10" fill="#4a6aae"/>
<rect x="77.26" y="176.15" width="2.88" height="10.10" fill="#4a6aae"/>
<rect x="81.74" y="176.15" width="2.88" height="10.10" fill="#4a6aae"/>
<rect x="86.23" y="176.15" width="2.88" height="10.10" fill="#4a6aae"/>
<rect x="90.71" y="176.15" width="2.88" height="10.10" fill="#4a6aae"/>
<rect x="95.19" y="176.15" width="2.88" height="10.10" fill="#4a6aae"/>
<rect x="99.67" y="176.15" width="2.88" height="10.10" fill="#4a6aae"/>
<rect x="104.16" y="176.15" width="2.88" height="10.10" fill="#4a6aae"/>
<rect x="108.64" y="176.15" width="2.88" height="10.10" fill="#4a6aae"/>
<rect x="113.12" y="176.15" width="2.88" height="10.10" fill="#4a6aae"/>
<rect x="117.61" y="176.15" width="2.88" height="10.10" fill="#4a6aae"/>
<rect x="122.09" y="176.15" width="2.88" height="10.10" fill="#4a6aae"/>
<rect x="126.57" y="176.15" width="2.88" height="10.10" fill="#4a6aae"/>
<rect x="131.06" y="176.15" width="2.88" height="10.10" fill="#4a6aae"/>
<rect x="135.54" y="176.15" width="2.88" height="10.10" fill="#4a6aae"/>
<rect x="140.02" y="176.15" width="2.88" height="10.10" fill="#4a6aae"/>
<rect x="144.50" y="176.15" width="2.88" height="10.10" fill="#4a6aae"/>
<rect x="148.99" y="176.15" width="2.88" height="10.10" fill="#4a6aae"/>
<rect x="153.47" y="176.15" width="2.88" height="10.10" fill="#4a6aae"/>
<rect x="157.95" y="176.15" width="2.88" height="10.10" fill="#faf1b8"/>
<rect x="162.44" y="176.15" width="2.88" height="10.10" fill="#4a6aae"/>
<rect x="166.92" y="176.15" width="2.88" height="10.10" fill="#4a6aae"/>
<rect x="171.40" y="176.15" width="2.88" height="10.10" fill="#4a6aae"/>
<rect x="175.89" y="176.15" width="2.88" height="10.10" fill="#4a6aae"/>
<rect x="180.37" y="176.15" width="2.88" height="10.10" fill="#4a6aae"/>
<rect x="184.85" y="176.15" width="2.88" height="10.10" fill="#4a6aae"/>
<rect x="189.33" y="176.15" width="2.88" height="10.10" fill="#4a6aae"/>
<rect x="193.82" y="176.15" width="2.88" height="10.10" fill="#faf1b8"/>
<rect x="198.30" y="176.15" width="2.88" height="10.10" fill="#4a6aae"/>
<rect x="202.78" y="176.15" width="2.88" height="10.10" fill="#4a6aae"/>
<rect x="207.27" y="176.15" width="2.88" height="10.10" fill="#4a6aae"/>
<rect x="217.80" y="176.15" width="2.88" height="10.10" fill="#4a6aae"/>
<rect x="222.28" y="176.15" width="2.88" height="10.10" fill="#4a6aae"/>
<rect x="226.77" y="176.15" width="2.88" height="10.10" fill="#faf1b8"/>
<rect x="231.25" y="176.15" width="2.88" height="10.10" fill="#faf1b8"/>
<rect x="235.73" y="176.15" width="2.88" height="10.10" fill="#4a6aae"/>
<rect x="240.22" y="176.15" width="2.88" height="10.10" fill="#4a6aae"/>
<rect x="244.70" y="176.15" width="2.88" height="10.10" fill="#4a6aae"/>
<rect x="249.18" y="176.15" width="2.88" height="10.10" fill="#4a6aae"/>
<rect x="253.66" y="176.15" width="2.88" height="10.10" fill="#4a6aae"/>
<rect x="264.20" y="176.15" width="2.88" height="10.10" fill="#faf1b8"/>
<rect x="268.68" y="176.15" width="2.88" height="10.10" fill="#4a6aae"/>
<rect x="273.16" y="176.15" width="2.88" height="10.10" fill="#4a6aae"/>
<rect x="277.65" y="176.15" width="2.88" height="10.10" fill="#4a6aae"/>
<rect x="282.13" y="176.15" width="2.88" height="10.10" fill="#faf1b8"/>
<rect x="286.61" y="176.15" width="2.88" height="10.10" fill="#4a6aae"/>
<rect x="291.10" y="176.15" width="2.88" height="10.10" fill="#4a6aae"/>
<rect x="295.58" y="176.15" width="2.88" height="10.10" fill="#4a6aae"/>
<rect x="306.11" y="176.15" width="2.88" height="10.10" fill="#faf1b8"/>
<rect x="310.59" y="176.15" width="2.88" height="10.10" fill="#4a6aae"/>
<rect x="315.08" y="176.15" width="2.88" height="10.10" fill="#4a6aae"/>
<rect x="319.56" y="176.15" width="2.88" height="10.10" fill="#4a6aae"/>
<rect x="324.04" y="176.15" width="2.88" height="10.10" fill="#4a6aae"/>
<rect x="328.53" y="176.15" width="2.88" height="10.10" fill="#4a6aae"/>
<rect x="333.01" y="176.15" width="2.88" height="10.10" fill="#4a6aae"/>
<rect x="337.49" y="176.15" width="2.88" height="10.10" fill="#4a6aae"/>
<rect x="341.97" y="176.15" width="2.88" height="10.10" fill="#4a6aae"/>
<rect x="77.26" y="188.15" width="2.88" height="10.10" fill="#4a6aae"/>
<rect x="81.74" y="188.15" width="2.88" height="10.10" fill="#4a6aae"/>
<rect x="86.23" y="188.15" width="2.88" height="10.10" fill="#4a6aae"/>
<rect x="90.71" y="188.15" width="2.88" height="10.10" fill="#4a6aae"/>
<rect x="95.19" y="188.15" width="2.88" height="10.10" fill="#4a6aae"/>
<rect x="99.67" y="188.15" width="2.88" height="10.10" fill="#4a6aae"/>
<rect x="104.16" y="188.15" width="2.88" height="10.10" fill="#4a6aae"/>
<rect x="108.64" y="188.15" width="2.88" height="10.10" fill="#4a6aae"/>
<rect x="113.12" y="188.15" width="2.88" height="10.10" fill="#4a6aae"/>
<rect x="117.61" y="188.15" width="2.88" height="10.10" fill="#4a6aae"/>
<rect x="122.09" y="188.15" width="2.88" height="10.10" fill="#4a6aae"/>
<rect x="126.57" y="188.15" width="2.88" height="10.10" fill="#4a6aae"/>
<rect x="131.06" y="188.15" width="2.88" height="10.10" fill="#4a6aae"/>
<rect x="135.54" y="188.15" width="2.88" height="10.10" fill="#faf1b8"/>
<rect x="140.02" y="188.15" width="2.88" height="10.10" fill="#4a6aae"/>
<rect x="144.50" y="188.15" width="2.88" height="10.10" fill="#4a6aae"/>
<rect x="148.99" y="188.15" width="2.88" height="10.10" fill="#4a6aae"/>
<rect x="153.47" y="188.15" width="2.88" height="10.10" fill="#4a6aae"/>
<rect x="157.95" y="188.15" width="2.88" height="10.10" fill="#4a6aae"/>
<rect x="162.44" y="188.15" width="2.88" height="10.10" fill="#4a6aae"/>
<rect x="166.92" y="188.15" width="2.88" height="10.10" fill="#4a6aae"/>
<rect x="171.40" y="188.15" width="2.88" height="10.10" fill="#4a6aae"/>
<rect x="175.89" y="188.15" width="2.88" height="10.10" fill="#4a6aae"/>
<rect x="180.37" y="188.15" width="2.88" height="10.10" fill="#4a6aae"/>
<rect x="184.85" y="188.15" width="2.88" height="10.10" fill="#4a6aae"/>
<rect x="189.33" y="188.15" width="2.88" height="10.10" fill="#4a6aae"/>
<rect x="193.82" y="188.15" width="2.88" height="10.10" fill="#4a6aae"/>
<rect x="198.30" y="188.15" width="2.88" height="10.10" fill="#4a6aae"/>
<rect x="202.78" y="188.15" width="2.88" height="10.10" fill="#4a6aae"/>
<rect x="207.27" y="188.15" width="2.88" height="10.10" fill="#4a6aae"/>
<rect x="217.80" y="188.15" width="2.88" height="10.10" fill="#faf1b8"/>
<rect x="222.28" y="188.15" width="2.88" height="10.10" fill="#faf1b8"/>
<rect x="226.77" y="188.15" width="2.88" height="10.10" fill="#faf1b8"/>
<rect x="231.25" y="188.15" width="2.88" height="10.10" fill="#faf1b8"/>
<rect x="235.73" y="188.15" width="2.88" height="10.10" fill="#4a6aae"/>
<rect x="240.22" y="188.15" width="2.88" height="10.10" fill="#4a6aae"/>
<rect x="244.70" y="188.15" width="2.88" height="10.10" fill="#4a6aae"/>
<rect x="249.18" y="188.15" width="2.88" height="10.10" fill="#4a6aae"/>
<rect x="253.66" y="188.15" width="2.88" height="10.10" fill="#faf1b8"/>
<rect x="264.20" y="188.15" width="2.88" height="10.10" fill="#4a6aae"/>
<rect x="268.68" y="188.15" width="2.88" height="10.10" fill="#4a6aae"/>
<rect x="273.16" y="188.15" width="2.88" height="10.10" fill="#4a6aae"/>
<rect x="277.65" y="188.15" width="2.88" height="10.10" fill="#4a6aae"/>
<rect x="282.13" y="188.15" width="2.88" height="10.10" fill="#4a6aae"/>
<rect x="286.61" y="188.15" width="2.88" height="10.10" fill="#4a6aae"/>
<rect x="291.10" y="188.15" width="2.88" height="10.10" fill="#4a6aae"/>
<rect x="295.58" y="188.15" width="2.88" height="10.10" fill="#4a6aae"/>
<rect x="306.11" y="188.15" width="2.88" height="10.10" fill="#4a6aae"/>
<rect x="310.59" y="188.15" width="2.88" height="10.10" fill="#4a6aae"/>
<rect x="315.08" y="188.15" width="2.88" height="10.10" fill="#4a6aae"/>
<rect x="319.56" y="188.15" width="2.88" height="10.10" fill="#4a6aae"/>
<rect x="324.04" y="188.15" width="2.88" height="10.10" fill="#4a6aae"/>
<rect x="328.53" y="188.15" width="2.88" height="10.10" fill="#4a6aae"/>
<rect x="333.01" y="188.15" width="2.88" height="10.10" fill="#4a6aae"/>
<rect x="337.49" y="188.15" width="2.88" height="10.10" fill="#4a6aae"/>
<rect x="341.97" y="188.15" width="2.88" height="10.10" fill="#4a6aae"/>
<rect x="77.26" y="200.15" width="2.88" height="10.10" fill="#4a6aae"/>
<rect x="81.74" y="200.15" width="2.88" height="10.10" fill="#4a6aae"/>
<rect x="86.23" y="200.15" width="2.88" height="10.10" fill="#4a6aae"/>
<rect x="90.71" y="200.15" width="2.88" height="10.10" fill="#4a6aae"/>
<rect x="95.19" y="200.15" width="2.88" height="10.10" fill="#4a6aae"/>
<rect x="99.67" y="200.15" width="2.88" height="10.10" fill="#4a6aae"/>
<rect x="104.16" y="200.15" width="2.88" height="10.10" fill="#4a6aae"/>
<rect x="108.64" y="200.15" width="2.88" height="10.10" fill="#4a6aae"/>
<rect x="113.12" y="200.15" width="2.88" height="10.10" fill="#4a6aae"/>
<rect x="117.61" y="200.15" width="2.88" height="10.10" fill="#4a6aae"/>
<rect x="122.09" y="200.15" width="2.88" height="10.10" fill="#4a6aae"/>
<rect x="126.57" y="200.15" width="2.88" height="10.10" fill="#4a6aae"/>
<rect x="131.06" y="200.15" width="2.88" height="10.10" fill="#4a6aae"/>
<rect x="135.54" y="200.15" width="2.88" height="10.10" fill="#4a6aae"/>
<rect x="140.02" y="200.15" width="2.88" height="10.10" fill="#4a6aae"/>
<rect x="144.50" y="200.15" width="2.88" height="10.10" fill="#4a6aae"/>
<rect x="148.99" y="200.15" width="2.88" height="10.10" fill="#4a6aae"/>
<rect x="153.47" y="200.15" width="2.88" height="10.10" fill="#4a6aae"/>
<rect x="157.95" y="200.15" width="2.88" height="10.10" fill="#4a6aae"/>
<rect x="162.44" y="200.15" width="2.88" height="10.10" fill="#4a6aae"/>
<rect x="166.92" y="200.15" width="2.88" height="10.10" fill="#4a6aae"/>
<rect x="171.40" y="200.15" width="2.88" height="10.10" fill="#4a6aae"/>
<rect x="175.89" y="200.15" width="2.88" height="10.10" fill="#4a6aae"/>
<rect x="180.37" y="200.15" width="2.88" height="10.10" fill="#4a6aae"/>
<rect x="184.85" y="200.15" width="2.88" height="10.10" fill="#4a6aae"/>
<rect x="189.33" y="200.15" width="2.88" height="10.10" fill="#4a6aae"/>
<rect x="193.82" y="200.15" width="2.88" height="10.10" fill="#4a6aae"/>
<rect x="198.30" y="200.15" width="2.88" height="10.10" fill="#4a6aae"/>
<rect x="202.78" y="200.15" width="2.88" height="10.10" fill="#4a6aae"/>
<rect x="207.27" y="200.15" width="2.88" height="10.10" fill="#4a6aae"/>
<rect x="217.80" y="200.15" width="2.88" height="10.10" fill="#d3e4ef"/>
<rect x="222.28" y="200.15" width="2.88" height="10.10" fill="#d3e4ef"/>
<rect x="226.77" y="200.15" width="2.88" height="10.10" fill="#eef1dc"/>
<rect x="231.25" y="200.15" width="2.88" height="10.10" fill="#d3e4ef"/>
<rect x="235.73" y="200.15" width="2.88" height="10.10" fill="#93b6d6"/>
<rect x="240.22" y="200.15" width="2.88" height="10.10" fill="#4a6aae"/>
<rect x="244.70" y="200.15" width="2.88" height="10.10" fill="#4a6aae"/>
<rect x="249.18" y="200.15" width="2.88" height="10.10" fill="#4a6aae"/>
<rect x="253.66" y="200.15" width="2.88" height="10.10" fill="#4a6aae"/>
<rect x="264.20" y="200.15" width="2.88" height="10.10" fill="#4a6aae"/>
<rect x="268.68" y="200.15" width="2.88" height="10.10" fill="#4a6aae"/>
<rect x="273.16" y="200.15" width="2.88" height="10.10" fill="#4a6aae"/>
<rect x="277.65" y="200.15" width="2.88" height="10.10" fill="#4a6aae"/>
<rect x="282.13" y="200.15" width="2.88" height="10.10" fill="#4a6aae"/>
<rect x="286.61" y="200.15" width="2.88" height="10.10" fill="#4a6aae"/>
<rect x="291.10" y="200.15" width="2.88" height="10.10" fill="#4a6aae"/>
<rect x="295.58" y="200.15" width="2.88" height="10.10" fill="#4a6aae"/>
<rect x="306.11" y="200.15" width="2.88" height="10.10" fill="#4a6aae"/>
<rect x="310.59" y="200.15" width="2.88" height="10.10" fill="#4a6aae"/>
<rect x="315.08" y="200.15" width="2.88" height="10.10" fill="#4a6aae"/>
<rect x="319.56" y="200.15" width="2.88" height="10.10" fill="#4a6aae"/>
<rect x="324.04" y="200.15" width="2.88" height="10.10" fill="#4a6aae"/>
<rect x="328.53" y="200.15" width="2.88" height="10.10" fill="#4a6aae"/>
<rect x="333.01" y="200.15" width="2.88" height="10.10" fill="#4a6aae"/>
<rect x="337.49" y="200.15" width="2.88" height="10.10" fill="#4a6aae"/>
<rect x="341.97" y="200.15" width="2.88" height="10.10" fill="#4a6aae"/>
<rect x="77.26" y="212.15" width="2.88" height="10.10" fill="#4a6aae"/>
<rect x="81.74" y="212.15" width="2.88" height="10.10" fill="#4a6aae"/>
<rect x="86.23" y="212.15" width="2.88" height="10.10" fill="#4a6aae"/>
<rect x="90.71" y="212.15" width="2.88" height="10.10" fill="#4a6aae"/>
<rect x="95.19" y="212.15" width="2.88" height="10.10" fill="#4a6aae"/>
<rect x="99.67" y="212.15" width="2.88" height="10.10" fill="#4a6aae"/>
<rect x="104.16" y="212.15" width="2.88" height="10.10" fill="#4a6aae"/>
<rect x="108.64" y="212.15" width="2.88" height="10.10" fill="#4a6aae"/>
<rect x="113.12" y="212.15" width="2.88" height="10.10" fill="#4a6aae"/>
<rect x="117.61" y="212.15" width="2.88" height="10.10" fill="#4a6aae"/>
<rect x="122.09" y="212.15" width="2.88" height="10.10" fill="#4a6aae"/>
<rect x="126.57" y="212.15" width="2.88" height="10.10" fill="#4a6aae"/>
<rect x="131.06" y="212.15" width="2.88" height="10.10" fill="#4a6aae"/>
<rect x="135.54" y="212.15" width="2.88" height="10.10" fill="#4a6aae"/>
<rect x="140.02" y="212.15" width="2.88" height="10.10" fill="#4a6aae"/>
<rect x="144.50" y="212.15" width="2.88" height="10.10" fill="#4a6aae"/>
<rect x="148.99" y="212.15" width="2.88" height="10.10" fill="#4a6aae"/>
<rect x="153.47" y="212.15" width="2.88" height="10.10" fill="#4a6aae"/>
<rect x="157.95" y="212.15" width="2.88" height="10.10" fill="#4a6aae"/>
<rect x="162.44" y="212.15" width="2.88" height="10.10" fill="#4a6aae"/>
<rect x="166.92" y="212.15" width="2.88" height="10.10" fill="#4a6aae"/>
<rect x="171.40" y="212.15" width="2.88" height="10.10" fill="#4a6aae"/>
<rect x="175.89" y="212.15" width="2.88" height="10.10" fill="#4a6aae"/>
<rect x="180.37" y="212.15" width="2.88" height="10.10" fill="#4a6aae"/>
<rect x="184.85" y="212.15" width="2.88" height="10.10" fill="#4a6aae"/>
<rect x="189.33" y="212.15" width="2.88" height="10.10" fill="#4a6aae"/>
<rect x="193.82" y="212.15" width="2.88" height="10.10" fill="#4a6aae"/>
<rect x="198.30" y="212.15" width="2.88" height="10.10" fill="#4a6aae"/>
<rect x="202.78" y="212.15" width="2.88" height="10.10" fill="#4a6aae"/>
<rect x="207.27" y="212.15" width="2.88" height="10.10" fill="#4a6aae"/>
<rect x="217.80" y="212.15" width="2.88" height="10.10" fill="#4a6aae"/>
<rect x="222.28" y="212.15" width="2.88" height="10.10" fill="#4a6aae"/>
<rect x="226.77" y="212.15" width="2.88" height="10.10" fill="#4a6aae"/>
<rect x="231.25" y="212.15" width="2.88" height="10.10" fill="#4a6aae"/>
<rect x="235.73" y="212.15" width="2.88" height="10.10" fill="#4a6aae"/>
<rect x="240.22" y="212.15" width="2.88" height="10.10" fill="#4a6aae"/>
<rect x="244.70" y="212.15" width="2.88" height="10.10" fill="#4a6aae"/>
<rect x="249.18" y="212.15" width="2.88" height="10.10" fill="#4a6aae"/>
<rect x="253.66" y="212.15" width="2.88" height="10.10" fill="#4a6aae"/>
<rect x="264.20" y="212.15" width="2.88" height="10.10" fill="#4a6aae"/>
<rect x="268.68" y="212.15" width="2.88" height="10.10" fill="#4a6aae"/>
<rect x="273.16" y="212.15" width="2.88" height="10.10" fill="#4a6aae"/>
<rect x="277.65" y="212.15" width="2.88" height="10.10" fill="#4a6aae"/>
<rect x="282.13" y="212.15" width="2.88" height="10.10" fill="#4a6aae"/>
<rect x="286.61" y="212.15" width="2.88" height="10.10" fill="#4a6aae"/>
<rect x="291.10" y="212.15" width="2.88" height="10.10" fill="#4a6aae"/>
<rect x="295.58" y="212.15" width="2.88" height="10.10" fill="#4a6aae"/>
<rect x="306.11" y="212.15" width="2.88" height="10.10" fill="#faf1b8"/>
<rect x="310.59" y="212.15" width="2.88" height="10.10" fill="#f6dc94"/>
<rect x="315.08" y="212.15" width="2.88" height="10.10" fill="#faf1b8"/>
<rect x="319.56" y="212.15" width="2.88" height="10.10" fill="#f6dc94"/>
<rect x="324.04" y="212.15" width="2.88" height="10.10" fill="#faf1b8"/>
<rect x="328.53" y="212.15" width="2.88" height="10.10" fill="#4a6aae"/>
<rect x="333.01" y="212.15" width="2.88" height="10.10" fill="#faf1b8"/>
<rect x="337.49" y="212.15" width="2.88" height="10.10" fill="#4a6aae"/>
<rect x="341.97" y="212.15" width="2.88" height="10.10" fill="#4a6aae"/>
<rect x="77.26" y="224.15" width="2.88" height="10.10" fill="#4a6aae"/>
<rect x="81.74" y="224.15" width="2.88" height="10.10" fill="#4a6aae"/>
<rect x="86.23" y="224.15" width="2.88" height="10.10" fill="#4a6aae"/>
<rect x="90.71" y="224.15" width="2.88" height="10.10" fill="#4a6aae"/>
<rect x="95.19" y="224.15" width="2.88" height="10.10" fill="#4a6aae"/>
<rect x="99.67" y="224.15" width="2.88" height="10.10" fill="#4a6aae"/>
<rect x="104.16" y="224.15" width="2.88" height="10.10" fill="#4a6aae"/>
<rect x="108.64" y="224.15" width="2.88" height="10.10" fill="#4a6aae"/>
<rect x="113.12" y="224.15" width="2.88" height="10.10" fill="#4a6aae"/>
<rect x="117.61" y="224.15" width="2.88" height="10.10" fill="#4a6aae"/>
<rect x="122.09" y="224.15" width="2.88" height="10.10" fill="#4a6aae"/>
<rect x="126.57" y="224.15" width="2.88" height="10.10" fill="#4a6aae"/>
<rect x="131.06" y="224.15" width="2.88" height="10.10" fill="#4a6aae"/>
<rect x="135.54" y="224.15" width="2.88" height="10.10" fill="#4a6aae"/>
<rect x="140.02" y="224.15" width="2.88" height="10.10" fill="#4a6aae"/>
<rect x="144.50" y="224.15" width="2.88" height="10.10" fill="#4a6aae"/>
<rect x="148.99" y="224.15" width="2.88" height="10.10" fill="#4a6aae"/>
<rect x="153.47" y="224.15" width="2.88" height="10.10" fill="#4a6aae"/>
<rect x="157.95" y="224.15" width="2.88" height="10.10" fill="#4a6aae"/>
<rect x="162.44" y="224.15" width="2.88" height="10.10" fill="#4a6aae"/>
<rect x="166.92" y="224.15" width="2.88" height="10.10" fill="#4a6aae"/>
<rect x="171.40" y="224.15" width="2.88" height="10.10" fill="#4a6aae"/>
<rect x="175.89" y="224.15" width="2.88" height="10.10" fill="#4a6aae"/>
<rect x="180.37" y="224.15" width="2.88" height="10.10" fill="#4a6aae"/>
<rect x="184.85" y="224.15" width="2.88" height="10.10" fill="#faf1b8"/>
<rect x="189.33" y="224.15" width="2.88" height="10.10" fill="#faf1b8"/>
<rect x="193.82" y="224.15" width="2.88" height="10.10" fill="#4a6aae"/>
<rect x="198.30" y="224.15" width="2.88" height="10.10" fill="#f6dc94"/>
<rect x="202.78" y="224.15" width="2.88" height="10.10" fill="#4a6aae"/>
<rect x="207.27" y="224.15" width="2.88" height="10.10" fill="#4a6aae"/>
<rect x="217.80" y="224.15" width="2.88" height="10.10" fill="#4a6aae"/>
<rect x="222.28" y="224.15" width="2.88" height="10.10" fill="#4a6aae"/>
<rect x="226.77" y="224.15" width="2.88" height="10.10" fill="#4a6aae"/>
<rect x="231.25" y="224.15" width="2.88" height="10.10" fill="#4a6aae"/>
<rect x="235.73" y="224.15" width="2.88" height="10.10" fill="#4a6aae"/>
<rect x="240.22" y="224.15" width="2.88" height="10.10" fill="#4a6aae"/>
<rect x="244.70" y="224.15" width="2.88" height="10.10" fill="#4a6aae"/>
<rect x="249.18" y="224.15" width="2.88" height="10.10" fill="#4a6aae"/>
<rect x="253.66" y="224.15" width="2.88" height="10.10" fill="#4a6aae"/>
<rect x="264.20" y="224.15" width="2.88" height="10.10" fill="#4a6aae"/>
<rect x="268.68" y="224.15" width="2.88" height="10.10" fill="#4a6aae"/>
<rect x="273.16" y="224.15" width="2.88" height="10.10" fill="#4a6aae"/>
<rect x="277.65" y="224.15" width="2.88" height="10.10" fill="#faf1b8"/>
<rect x="282.13" y="224.15" width="2.88" height="10.10" fill="#4a6aae"/>
<rect x="286.61" y="224.15" width="2.88" height="10.10" fill="#4a6aae"/>
<rect x="291.10" y="224.15" width="2.88" height="10.10" fill="#4a6aae"/>
<rect x="295.58" y="224.15" width="2.88" height="10.10" fill="#4a6aae"/>
<rect x="306.11" y="224.15" width="2.88" height="10.10" fill="#4a6aae"/>
<rect x="310.59" y="224.15" width="2.88" height="10.10" fill="#4a6aae"/>
<rect x="315.08" y="224.15" width="2.88" height="10.10" fill="#4a6aae"/>
<rect x="319.56" y="224.15" width="2.88" height="10.10" fill="#4a6aae"/>
<rect x="324.04" y="224.15" width="2.88" height="10.10" fill="#4a6aae"/>
<rect x="328.53" y="224.15" width="2.88" height="10.10" fill="#4a6aae"/>
<rect x="333.01" y="224.15" width="2.88" height="10.10" fill="#4a6aae"/>
<rect x="337.49" y="224.15" width="2.88" height="10.10" fill="#4a6aae"/>
<rect x="341.97" y="224.15" width="2.88" height="10.10" fill="#4a6aae"/>
<rect x="77.26" y="236.15" width="2.88" height="10.10" fill="#faf1b8"/>
<rect x="81.74" y="236.15" width="2.88" height="10.10" fill="#4a6aae"/>
<rect x="86.23" y="236.15" width="2.88" height="10.10" fill="#4a6aae"/>
<rect x="90.71" y="236.15" width="2.88" height="10.10" fill="#4a6aae"/>
<rect x="95.19" y="236.15" width="2.88" height="10.10" fill="#4a6aae"/>
<rect x="99.67" y="236.15" width="2.88" height="10.10" fill="#4a6aae"/>
<rect x="104.16" y="236.15" width="2.88" height="10.10" fill="#4a6aae"/>
<rect x="108.64" y="236.15" width="2.88" height="10.10" fill="#4a6aae"/>
<rect x="113.12" y="236.15" width="2.88" height="10.10" fill="#4a6aae"/>
<rect x="117.61" y="236.15" width="2.88" height="10.10" fill="#4a6aae"/>
<rect x="122.09" y="236.15" width="2.88" height="10.10" fill="#f6dc94"/>
<rect x="126.57" y="236.15" width="2.88" height="10.10" fill="#4a6aae"/>
<rect x="131.06" y="236.15" width="2.88" height="10.10" fill="#4a6aae"/>
<rect x="135.54" y="236.15" width="2.88" height="10.10" fill="#4a6aae"/>
<rect x="140.02" y="236.15" width="2.88" height="10.10" fill="#4a6aae"/>
<rect x="144.50" y="236.15" width="2.88" height="10.10" fill="#4a6aae"/>
<rect x="148.99" y="236.15" width="2.88" height="10.10" fill="#4a6aae"/>
<rect x="153.47" y="236.15" width="2.88" height="10.10" fill="#4a6aae"/>
<rect x="157.95" y="236.15" width="2.88" height="10.10" fill="#4a6aae"/>
<rect x="162.44" y="236.15" width="2.88" height="10.10" fill="#4a6aae"/>
<rect x="166.92" y="236.15" width="2.88" height="10.10" fill="#4a6aae"/>
<rect x="171.40" y="236.15" width="2.88" height="10.10" fill="#4a6aae"/>
<rect x="175.89" y="236.15" width="2.88" height="10.10" fill="#4a6aae"/>
<rect x="180.37" y="236.15" width="2.88" height="10.10" fill="#4a6aae"/>
<rect x="184.85" y="236.15" width="2.88" height="10.10" fill="#4a6aae"/>
<rect x="189.33" y="236.15" width="2.88" height="10.10" fill="#4a6aae"/>
<rect x="193.82" y="236.15" width="2.88" height="10.10" fill="#4a6aae"/>
<rect x="198.30" y="236.15" width="2.88" height="10.10" fill="#4a6aae"/>
<rect x="202.78" y="236.15" width="2.88" height="10.10" fill="#4a6aae"/>
<rect x="207.27" y="236.15" width="2.88" height="10.10" fill="#4a6aae"/>
<rect x="217.80" y="236.15" width="2.88" height="10.10" fill="#4a6aae"/>
<rect x="222.28" y="236.15" width="2.88" height="10.10" fill="#4a6aae"/>
<rect x="226.77" y="236.15" width="2.88" height="10.10" fill="#4a6aae"/>
<rect x="231.25" y="236.15" width="2.88" height="10.10" fill="#4a6aae"/>
<rect x="235.73" y="236.15" width="2.88" height="10.10" fill="#d3e4ef"/>
<rect x="240.22" y="236.15" width="2.88" height="10.10" fill="#4a6aae"/>
<rect x="244.70" y="236.15" width="2.88" height="10.10" fill="#4a6aae"/>
<rect x="249.18" y="236.15" width="2.88" height="10.10" fill="#faf1b8"/>
<rect x="253.66" y="236.15" width="2.88" height="10.10" fill="#4a6aae"/>
<rect x="264.20" y="236.15" width="2.88" height="10.10" fill="#4a6aae"/>
<rect x="268.68" y="236.15" width="2.88" height="10.10" fill="#4a6aae"/>
<rect x="273.16" y="236.15" width="2.88" height="10.10" fill="#4a6aae"/>
<rect x="277.65" y="236.15" width="2.88" height="10.10" fill="#4a6aae"/>
<rect x="282.13" y="236.15" width="2.88" height="10.10" fill="#4a6aae"/>
<rect x="286.61" y="236.15" width="2.88" height="10.10" fill="#4a6aae"/>
<rect x="291.10" y="236.15" width="2.88" height="10.10" fill="#4a6aae"/>
<rect x="295.58" y="236.15" width="2.88" height="10.10" fill="#4a6aae"/>
<rect x="306.11" y="236.15" width="2.88" height="10.10" fill="#4a6aae"/>
<rect x="310.59" y="236.15" width="2.88" height="10.10" fill="#4a6aae"/>
<rect x="315.08" y="236.15" width="2.88" height="10.10" fill="#4a6aae"/>
<rect x="319.56" y="236.15" width="2.88" height="10.10" fill="#4a6aae"/>
<rect x="324.04" y="236.15" width="2.88" height="10.10" fill="#4a6aae"/>
<rect x="328.53" y="236.15" width="2.88" height="10.10" fill="#4a6aae"/>
<rect x="333.01" y="236.15" width="2.88" height="10.10" fill="#4a6aae"/>
<rect x="337.49" y="236.15" width="2.88" height="10.10" fill="#4a6aae"/>
<rect x="341.97" y="236.15" width="2.88" height="10.10" fill="#4a6aae"/>
<rect x="77.26" y="248.15" width="2.88" height="10.10" fill="#4a6aae"/>
<rect x="81.74" y="248.15" width="2.88" height="10.10" fill="#4a6aae"/>
<rect x="86.23" y="248.15" width="2.88" height="10.10" fill="#4a6aae"/>
<rect x="90.71" y="248.15" width="2.88" height="10.10" fill="#4a6aae"/>
<rect x="95.19" y="248.15" width="2.88" height="10.10" fill="#4a6aae"/>
<rect x="99.67" y="248.15" width="2.88" height="10.10" fill="#4a6aae"/>
<rect x="104.16" y="248.15" width="2.88" height="10.10" fill="#4a6aae"/>
<rect x="108.64" y="248.15" width="2.88" height="10.10" fill="#4a6aae"/>
<rect x="113.12" y="248.15" width="2.88" height="10.10" fill="#4a6aae"/>
<rect x="117.61" y="248.15" width="2.88" height="10.10" fill="#4a6aae"/>
<rect x="122.09" y="248.15" width="2.88" height="10.10" fill="#4a6aae"/>
<rect x="126.57" y="248.15" width="2.88" height="10.10" fill="#4a6aae"/>
<rect x="131.06" y="248.15" width="2.88" height="10.10" fill="#4a6aae"/>
<rect x="135.54" y="248.15" width="2.88" height="10.10" fill="#4a6aae"/>
<rect x="140.02" y="248.15" width="2.88" height="10.10" fill="#4a6aae"/>
<rect x="144.50" y="248.15" width="2.88" height="10.10" fill="#4a6aae"/>
<rect x="148.99" y="248.15" width="2.88" height="10.10" fill="#4a6aae"/>
<rect x="153.47" y="248.15" width="2.88" height="10.10" fill="#4a6aae"/>
<rect x="157.95" y="248.15" width="2.88" height="10.10" fill="#4a6aae"/>
<rect x="162.44" y="248.15" width="2.88" height="10.10" fill="#4a6aae"/>
<rect x="166.92" y="248.15" width="2.88" height="10.10" fill="#f6dc94"/>
<rect x="171.40" y="248.15" width="2.88" height="10.10" fill="#4a6aae"/>
<rect x="175.89" y="248.15" width="2.88" height="10.10" fill="#4a6aae"/>
<rect x="180.37" y="248.15" width="2.88" height="10.10" fill="#4a6aae"/>
<rect x="184.85" y="248.15" width="2.88" height="10.10" fill="#4a6aae"/>
<rect x="189.33" y="248.15" width="2.88" height="10.10" fill="#4a6aae"/>
<rect x="193.82" y="248.15" width="2.88" height="10.10" fill="#4a6aae"/>
<rect x="198.30" y="248.15" width="2.88" height="10.10" fill="#4a6aae"/>
<rect x="202.78" y="248.15" width="2.88" height="10.10" fill="#4a6aae"/>
<rect x="207.27" y="248.15" width="2.88" height="10.10" fill="#4a6aae"/>
<rect x="217.80" y="248.15" width="2.88" height="10.10" fill="#4a6aae"/>
<rect x="222.28" y="248.15" width="2.88" height="10.10" fill="#4a6aae"/>
<rect x="226.77" y="248.15" width="2.88" height="10.10" fill="#4a6aae"/>
<rect x="231.25" y="248.15" width="2.88" height="10.10" fill="#4a6aae"/>
<rect x="235.73" y="248.15" width="2.88" height="10.10" fill="#4a6aae"/>
<rect x="240.22" y="248.15" width="2.88" height="10.10" fill="#4a6aae"/>
<rect x="244.70" y="248.15" width="2.88" height="10.10" fill="#4a6aae"/>
<rect x="249.18" y="248.15" width="2.88" height="10.10" fill="#4a6aae"/>
<rect x="253.66" y="248.15" width="2.88" height="10.10" fill="#4a6aae"/>
<rect x="264.20" y="248.15" width="2.88" height="10.10" fill="#4a6aae"/>
<rect x="268.68" y="248.15" width="2.88" height="10.10" fill="#4a6aae"/>
<rect x="273.16" y="248.15" width="2.88" height="10.10" fill="#4a6aae"/>
<rect x="277.65" y="248.15" width="2.88" height="10.10" fill="#4a6aae"/>
<rect x="282.13" y="248.15" width="2.88" height="10.10" fill="#4a6aae"/>
<rect x="286.61" y="248.15" width="2.88" height="10.10" fill="#4a6aae"/>
<rect x="291.10" y="248.15" width="2.88" height="10.10" fill="#4a6aae"/>
<rect x="295.58" y="248.15" width="2.88" height="10.10" fill="#4a6aae"/>
<rect x="306.11" y="248.15" width="2.88" height="10.10" fill="#faf1b8"/>
<rect x="310.59" y="248.15" width="2.88" height="10.10" fill="#4a6aae"/>
<rect x="315.08" y="248.15" width="2.88" height="10.10" fill="#4a6aae"/>
<rect x="319.56" y="248.15" width="2.88" height="10.10" fill="#4a6aae"/>
<rect x="324.04" y="248.15" width="2.88" height="10.10" fill="#4a6aae"/>
<rect x="328.53" y="248.15" width="2.88" height="10.10" fill="#4a6aae"/>
<rect x="333.01" y="248.15" width="2.88" height="10.10" fill="#4a6aae"/>
<rect x="337.49" y="248.15" width="2.88" height="10.10" fill="#4a6aae"/>
<rect x="341.97" y="248.15" width="2.88" height="10.10" fill="#4a6aae"/>
<rect x="77.26" y="260.15" width="2.88" height="10.10" fill="#4a6aae"/>
<rect x="81.74" y="260.15" width="2.88" height="10.10" fill="#4a6aae"/>
<rect x="86.23" y="260.15" width="2.88" height="10.10" fill="#4a6aae"/>
<rect x="90.71" y="260.15" width="2.88" height="10.10" fill="#4a6aae"/>
<rect x="95.19" y="260.15" width="2.88" height="10.10" fill="#4a6aae"/>
<rect x="99.67" y="260.15" width="2.88" height="10.10" fill="#4a6aae"/>
<rect x="104.16" y="260.15" width="2.88" height="10.10" fill="#4a6aae"/>
<rect x="108.64" y="260.15" width="2.88" height="10.10" fill="#4a6aae"/>
<rect x="113.12" y="260.15" width="2.88" height="10.10" fill="#4a6aae"/>
<rect x="117.61" y="260.15" width="2.88" height="10.10" fill="#4a6aae"/>
<rect x="122.09" y="260.15" width="2.88" height="10.10" fill="#4a6aae"/>
<rect x="126.57" y="260.15" width="2.88" height="10.10" fill="#4a6aae"/>
<rect x="131.06" y="260.15" width="2.88" height="10.10" fill="#4a6aae"/>
<rect x="135.54" y="260.15" width="2.88" height="10.10" fill="#4a6aae"/>
<rect x="140.02" y="260.15" width="2.88" height="10.10" fill="#4a6aae"/>
<rect x="144.50" y="260.15" width="2.88" height="10.10" fill="#4a6aae"/>
<rect x="148.99" y="260.15" width="2.88" height="10.10" fill="#4a6aae"/>
<rect x="153.47" y="260.15" width="2.88" height="10.10" fill="#4a6aae"/>
<rect x="157.95" y="260.15" width="2.88" height="10.10" fill="#4a6aae"/>
<rect x="162.44" y="260.15" width="2.88" height="10.10" fill="#eef1dc"/>
<rect x="166.92" y="260.15" width="2.88" height="10.10" fill="#4a6aae"/>
<rect x="171.40" y="260.15" width="2.88" height="10.10" fill="#4a6aae"/>
<rect x="175.89" y="260.15" width="2.88" height="10.10" fill="#4a6aae"/>
<rect x="180.37" y="260.15" width="2.88" height="10.10" fill="#4a6aae"/>
<rect x="184.85" y="260.15" width="2.88" height="10.10" fill="#4a6aae"/>
<rect x="189.33" y="260.15" width="2.88" height="10.10" fill="#4a6aae"/>
<rect x="193.82" y="260.15" width="2.88" height="10.10" fill="#4a6aae"/>
<rect x="198.30" y="260.15" width="2.88" height="10.10" fill="#4a6aae"/>
<rect x="202.78" y="260.15" width="2.88" height="10.10" fill="#4a6aae"/>
<rect x="207.27" y="260.15" width="2.88" height="10.10" fill="#4a6aae"/>
<rect x="217.80" y="260.15" width="2.88" height="10.10" fill="#4a6aae"/>
<rect x="222.28" y="260.15" width="2.88" height="10.10" fill="#4a6aae"/>
<rect x="226.77" y="260.15" width="2.88" height="10.10" fill="#4a6aae"/>
<rect x="231.25" y="260.15" width="2.88" height="10.10" fill="#4a6aae"/>
<rect x="235.73" y="260.15" width="2.88" height="10.10" fill="#4a6aae"/>
<rect x="240.22" y="260.15" width="2.88" height="10.10" fill="#4a6aae"/>
<rect x="244.70" y="260.15" width="2.88" height="10.10" fill="#4a6aae"/>
<rect x="249.18" y="260.15" width="2.88" height="10.10" fill="#4a6aae"/>
<rect x="253.66" y="260.15" width="2.88" height="10.10" fill="#4a6aae"/>
<rect x="264.20" y="260.15" width="2.88" height="10.10" fill="#4a6aae"/>
<rect x="268.68" y="260.15" width="2.88" height="10.10" fill="#4a6aae"/>
<rect x="273.16" y="260.15" width="2.88" height="10.10" fill="#4a6aae"/>
<rect x="277.65" y="260.15" width="2.88" height="10.10" fill="#4a6aae"/>
<rect x="282.13" y="260.15" width="2.88" height="10.10" fill="#4a6aae"/>
<rect x="286.61" y="260.15" width="2.88" height="10.10" fill="#4a6aae"/>
<rect x="291.10" y="260.15" width="2.88" height="10.10" fill="#4a6aae"/>
<rect x="295.58" y="260.15" width="2.88" height="10.10" fill="#4a6aae"/>
<rect x="306.11" y="260.15" width="2.88" height="10.10" fill="#4a6aae"/>
<rect x="310.59" y="260.15" width="2.88" height="10.10" fill="#f6dc94"/>
<rect x="315.08" y="260.15" width="2.88" height="10.10" fill="#4a6aae"/>
<rect x="319.56" y="260.15" width="2.88" height="10.10" fill="#4a6aae"/>
<rect x="324.04" y="260.15" width="2.88" height="10.10" fill="#4a6aae"/>
<rect x="328.53" y="260.15" width="2.88" height="10.10" fill="#4a6aae"/>
<rect x="333.01" y="260.15" width="2.88" height="10.10" fill="#4a6aae"/>
<rect x="337.49" y="260.15" width="2.88" height="10.10" fill="#4a6aae"/>
<rect x="341.97" y="260.15" width="2.88" height="10.10" fill="#4a6aae"/>
<rect x="77.26" y="272.15" width="2.88" height="10.10" fill="#4a6aae"/>
<rect x="81.74" y="272.15" width="2.88" height="10.10" fill="#4a6aae"/>
<rect x="86.23" y="272.15" width="2.88" height="10.10" fill="#4a6aae"/>
<rect x="90.71" y="272.15" width="2.88" height="10.10" fill="#4a6aae"/>
<rect x="95.19" y="272.15" width="2.88" height="10.10" fill="#4a6aae"/>
<rect x="99.67" y="272.15" width="2.88" height="10.10" fill="#4a6aae"/>
<rect x="104.16" y="272.15" width="2.88" height="10.10" fill="#4a6aae"/>
<rect x="108.64" y="272.15" width="2.88" height="10.10" fill="#4a6aae"/>
<rect x="113.12" y="272.15" width="2.88" height="10.10" fill="#4a6aae"/>
<rect x="117.61" y="272.15" width="2.88" height="10.10" fill="#4a6aae"/>
<rect x="122.09" y="272.15" width="2.88" height="10.10" fill="#4a6aae"/>
<rect x="126.57" y="272.15" width="2.88" height="10.10" fill="#4a6aae"/>
<rect x="131.06" y="272.15" width="2.88" height="10.10" fill="#4a6aae"/>
<rect x="135.54" y="272.15" width="2.88" height="10.10" fill="#4a6aae"/>
<rect x="140.02" y="272.15" width="2.88" height="10.10" fill="#4a6aae"/>
<rect x="144.50" y="272.15" width="2.88" height="10.10" fill="#4a6aae"/>
<rect x="148.99" y="272.15" width="2.88" height="10.10" fill="#4a6aae"/>
<rect x="153.47" y="272.15" width="2.88" height="10.10" fill="#4a6aae"/>
<rect x="157.95" y="272.15" width="2.88" height="10.10" fill="#4a6aae"/>
<rect x="162.44" y="272.15" width="2.88" height="10.10" fill="#4a6aae"/>
<rect x="166.92" y="272.15" width="2.88" height="10.10" fill="#4a6aae"/>
<rect x="171.40" y="272.15" width="2.88" height="10.10" fill="#4a6aae"/>
<rect x="175.89" y="272.15" width="2.88" height="10.10" fill="#4a6aae"/>
<rect x="180.37" y="272.15" width="2.88" height="10.10" fill="#4a6aae"/>
<rect x="184.85" y="272.15" width="2.88" height="10.10" fill="#4a6aae"/>
<rect x="189.33" y="272.15" width="2.88" height="10.10" fill="#4a6aae"/>
<rect x="193.82" y="272.15" width="2.88" height="10.10" fill="#4a6aae"/>
<rect x="198.30" y="272.15" width="2.88" height="10.10" fill="#4a6aae"/>
<rect x="202.78" y="272.15" width="2.88" height="10.10" fill="#4a6aae"/>
<rect x="207.27" y="272.15" width="2.88" height="10.10" fill="#4a6aae"/>
<rect x="217.80" y="272.15" width="2.88" height="10.10" fill="#4a6aae"/>
<rect x="222.28" y="272.15" width="2.88" height="10.10" fill="#4a6aae"/>
<rect x="226.77" y="272.15" width="2.88" height="10.10" fill="#4a6aae"/>
<rect x="231.25" y="272.15" width="2.88" height="10.10" fill="#4a6aae"/>
<rect x="235.73" y="272.15" width="2.88" height="10.10" fill="#4a6aae"/>
<rect x="240.22" y="272.15" width="2.88" height="10.10" fill="#4a6aae"/>
<rect x="244.70" y="272.15" width="2.88" height="10.10" fill="#4a6aae"/>
<rect x="249.18" y="272.15" width="2.88" height="10.10" fill="#4a6aae"/>
<rect x="253.66" y="272.15" width="2.88" height="10.10" fill="#4a6aae"/>
<rect x="264.20" y="272.15" width="2.88" height="10.10" fill="#eef1dc"/>
<rect x="268.68" y="272.15" width="2.88" height="10.10" fill="#4a6aae"/>
<rect x="273.16" y="272.15" width="2.88" height="10.10" fill="#4a6aae"/>
<rect x="277.65" y="272.15" width="2.88" height="10.10" fill="#4a6aae"/>
<rect x="282.13" y="272.15" width="2.88" height="10.10" fill="#4a6aae"/>
<rect x="286.61" y="272.15" width="2.88" height="10.10" fill="#4a6aae"/>
<rect x="291.10" y="272.15" width="2.88" height="10.10" fill="#4a6aae"/>
<rect x="295.58" y="272.15" width="2.88" height="10.10" fill="#4a6aae"/>
<rect x="306.11" y="272.15" width="2.88" height="10.10" fill="#4a6aae"/>
<rect x="310.59" y="272.15" width="2.88" height="10.10" fill="#4a6aae"/>
<rect x="315.08" y="272.15" width="2.88" height="10.10" fill="#4a6aae"/>
<rect x="319.56" y="272.15" width="2.88" height="10.10" fill="#4a6aae"/>
<rect x="324.04" y="272.15" width="2.88" height="10.10" fill="#4a6aae"/>
<rect x="328.53" y="272.15" width="2.88" height="10.10" fill="#4a6aae"/>
<rect x="333.01" y="272.15" width="2.88" height="10.10" fill="#4a6aae"/>
<rect x="337.49" y="272.15" width="2.88" height="10.10" fill="#4a6aae"/>
<rect x="341.97" y="272.15" width="2.88" height="10.10" fill="#4a6aae"/>
<rect x="77.26" y="284.15" width="2.88" height="10.10" fill="#4a6aae"/>
<rect x="81.74" y="284.15" width="2.88" height="10.10" fill="#4a6aae"/>
<rect x="86.23" y="284.15" width="2.88" height="10.10" fill="#4a6aae"/>
<rect x="90.71" y="284.15" width="2.88" height="10.10" fill="#4a6aae"/>
<rect x="95.19" y="284.15" width="2.88" height="10.10" fill="#4a6aae"/>
<rect x="99.67" y="284.15" width="2.88" height="10.10" fill="#4a6aae"/>
<rect x="104.16" y="284.15" width="2.88" height="10.10" fill="#4a6aae"/>
<rect x="108.64" y="284.15" width="2.88" height="10.10" fill="#4a6aae"/>
<rect x="113.12" y="284.15" width="2.88" height="10.10" fill="#4a6aae"/>
<rect x="117.61" y="284.15" width="2.88" height="10.10" fill="#4a6aae"/>
<rect x="122.09" y="284.15" width="2.88" height="10.10" fill="#4a6aae"/>
<rect x="126.57" y="284.15" width="2.88" height="10.10" fill="#4a6aae"/>
<rect x="131.06" y="284.15" width="2.88" height="10.10" fill="#4a6aae"/>
<rect x="135.54" y="284.15" width="2.88" height="10.10" fill="#4a6aae"/>
<rect x="140.02" y="284.15" width="2.88" height="10.10" fill="#4a6aae"/>
<rect x="144.50" y="284.15" width="2.88" height="10.10" fill="#4a6aae"/>
<rect x="148.99" y="284.15" width="2.88" height="10.10" fill="#4a6aae"/>
<rect x="153.47" y="284.15" width="2.88" height="10.10" fill="#4a6aae"/>
<rect x="157.95" y="284.15" width="2.88" height="10.10" fill="#4a6aae"/>
<rect x="162.44" y="284.15" width="2.88" height="10.10" fill="#4a6aae"/>
<rect x="166.92" y="284.15" width="2.88" height="10.10" fill="#4a6aae"/>
<rect x="171.40" y="284.15" width="2.88" height="10.10" fill="#4a6aae"/>
<rect x="175.89" y="284.15" width="2.88" height="10.10" fill="#4a6aae"/>
<rect x="180.37" y="284.15" width="2.88" height="10.10" fill="#4a6aae"/>
<rect x="184.85" y="284.15" width="2.88" height="10.10" fill="#4a6aae"/>
<rect x="189.33" y="284.15" width="2.88" height="10.10" fill="#4a6aae"/>
<rect x="193.82" y="284.15" width="2.88" height="10.10" fill="#4a6aae"/>
<rect x="198.30" y="284.15" width="2.88" height="10.10" fill="#4a6aae"/>
<rect x="202.78" y="284.15" width="2.88" height="10.10" fill="#4a6aae"/>
<rect x="207.27" y="284.15" width="2.88" height="10.10" fill="#4a6aae"/>
<rect x="217.80" y="284.15" width="2.88" height="10.10" fill="#4a6aae"/>
<rect x="222.28" y="284.15" width="2.88" height="10.10" fill="#4a6aae"/>
<rect x="226.77" y="284.15" width="2.88" height="10.10" fill="#4a6aae"/>
<rect x="231.25" y="284.15" width="2.88" height="10.10" fill="#4a6aae"/>
<rect x="235.73" y="284.15" width="2.88" height="10.10" fill="#4a6aae"/>
<rect x="240.22" y="284.15" width="2.88" height="10.10" fill="#4a6aae"/>
<rect x="244.70" y="284.15" width="2.88" height="10.10" fill="#4a6aae"/>
<rect x="249.18" y="284.15" width="2.88" height="10.10" fill="#4a6aae"/>
<rect x="253.66" y="284.15" width="2.88" height="10.10" fill="#4a6aae"/>
<rect x="264.20" y="284.15" width="2.88" height="10.10" fill="#4a6aae"/>
<rect x="268.68" y="284.15" width="2.88" height="10.10" fill="#4a6aae"/>
<rect x="273.16" y="284.15" width="2.88" height="10.10" fill="#4a6aae"/>
<rect x="277.65" y="284.15" width="2.88" height="10.10" fill="#4a6aae"/>
<rect x="282.13" y="284.15" width="2.88" height="10.10" fill="#4a6aae"/>
<rect x="286.61" y="284.15" width="2.88" height="10.10" fill="#4a6aae"/>
<rect x="291.10" y="284.15" width="2.88" height="10.10" fill="#4a6aae"/>
<rect x="295.58" y="284.15" width="2.88" height="10.10" fill="#4a6aae"/>
<rect x="306.11" y="284.15" width="2.88" height="10.10" fill="#4a6aae"/>
<rect x="310.59" y="284.15" width="2.88" height="10.10" fill="#4a6aae"/>
<rect x="315.08" y="284.15" width="2.88" height="10.10" fill="#4a6aae"/>
<rect x="319.56" y="284.15" width="2.88" height="10.10" fill="#4a6aae"/>
<rect x="324.04" y="284.15" width="2.88" height="10.10" fill="#4a6aae"/>
<rect x="328.53" y="284.15" width="2.88" height="10.10" fill="#4a6aae"/>
<rect x="333.01" y="284.15" width="2.88" height="10.10" fill="#4a6aae"/>
<rect x="337.49" y="284.15" width="2.88" height="10.10" fill="#4a6aae"/>
<rect x="341.97" y="284.15" width="2.88" height="10.10" fill="#4a6aae"/>
<rect x="77.26" y="296.15" width="2.88" height="10.10" fill="#4a6aae"/>
<rect x="81.74" y="296.15" width="2.88" height="10.10" fill="#4a6aae"/>
<rect x="86.23" y="296.15" width="2.88" height="10.10" fill="#4a6aae"/>
<rect x="90.71" y="296.15" width="2.88" height="10.10" fill="#4a6aae"/>
<rect x="95.19" y="296.15" width="2.88" height="10.10" fill="#4a6aae"/>
<rect x="99.67" y="296.15" width="2.88" height="10.10" fill="#4a6aae"/>
<rect x="104.16" y="296.15" width="2.88" height="10.10" fill="#4a6aae"/>
<rect x="108.64" y="296.15" width="2.88" height="10.10" fill="#4a6aae"/>
<rect x="113.12" y="296.15" width="2.88" height="10.10" fill="#4a6aae"/>
<rect x="117.61" y="296.15" width="2.88" height="10.10" fill="#4a6aae"/>
<rect x="122.09" y="296.15" width="2.88" height="10.10" fill="#4a6aae"/>
<rect x="126.57" y="296.15" width="2.88" height="10.10" fill="#4a6aae"/>
<rect x="131.06" y="296.15" width="2.88" height="10.10" fill="#4a6aae"/>
<rect x="135.54" y="296.15" width="2.88" height="10.10" fill="#4a6aae"/>
<rect x="140.02" y="296.15" width="2.88" height="10.10" fill="#4a6aae"/>
<rect x="144.50" y="296.15" width="2.88" height="10.10" fill="#4a6aae"/>
<rect x="148.99" y="296.15" width="2.88" height="10.10" fill="#4a6aae"/>
<rect x="153.47" y="296.15" width="2.88" height="10.10" fill="#4a6aae"/>
<rect x="157.95" y="296.15" width="2.88" height="10.10" fill="#4a6aae"/>
<rect x="162.44" y="296.15" width="2.88" height="10.10" fill="#4a6aae"/>
<rect x="166.92" y="296.15" width="2.88" height="10.10" fill="#4a6aae"/>
<rect x="171.40" y="296.15" width="2.88" height="10.10" fill="#4a6aae"/>
<rect x="175.89" y="296.15" width="2.88" height="10.10" fill="#4a6aae"/>
<rect x="180.37" y="296.15" width="2.88" height="10.10" fill="#4a6aae"/>
<rect x="184.85" y="296.15" width="2.88" height="10.10" fill="#4a6aae"/>
<rect x="189.33" y="296.15" width="2.88" height="10.10" fill="#4a6aae"/>
<rect x="193.82" y="296.15" width="2.88" height="10.10" fill="#4a6aae"/>
<rect x="198.30" y="296.15" width="2.88" height="10.10" fill="#4a6aae"/>
<rect x="202.78" y="296.15" width="2.88" height="10.10" fill="#4a6aae"/>
<rect x="207.27" y="296.15" width="2.88" height="10.10" fill="#4a6aae"/>
<rect x="217.80" y="296.15" width="2.88" height="10.10" fill="#4a6aae"/>
<rect x="222.28" y="296.15" width="2.88" height="10.10" fill="#4a6aae"/>
<rect x="226.77" y="296.15" width="2.88" height="10.10" fill="#4a6aae"/>
<rect x="231.25" y="296.15" width="2.88" height="10.10" fill="#4a6aae"/>
<rect x="235.73" y="296.15" width="2.88" height="10.10" fill="#4a6aae"/>
<rect x="240.22" y="296.15" width="2.88" height="10.10" fill="#4a6aae"/>
<rect x="244.70" y="296.15" width="2.88" height="10.10" fill="#4a6aae"/>
<rect x="249.18" y="296.15" width="2.88" height="10.10" fill="#4a6aae"/>
<rect x="253.66" y="296.15" width="2.88" height="10.10" fill="#4a6aae"/>
<rect x="264.20" y="296.15" width="2.88" height="10.10" fill="#4a6aae"/>
<rect x="268.68" y="296.15" width="2.88" height="10.10" fill="#4a6aae"/>
<rect x="273.16" y="296.15" width="2.88" height="10.10" fill="#4a6aae"/>
<rect x="277.65" y="296.15" width="2.88" height="10.10" fill="#4a6aae"/>
<rect x="282.13" y="296.15" width="2.88" height="10.10" fill="#4a6aae"/>
<rect x="286.61" y="296.15" width="2.88" height="10.10" fill="#4a6aae"/>
<rect x="291.10" y="296.15" width="2.88" height="10.10" fill="#4a6aae"/>
<rect x="295.58" y="296.15" width="2.88" height="10.10" fill="#4a6aae"/>
<rect x="306.11" y="296.15" width="2.88" height="10.10" fill="#4a6aae"/>
<rect x="310.59" y="296.15" width="2.88" height="10.10" fill="#4a6aae"/>
<rect x="315.08" y="296.15" width="2.88" height="10.10" fill="#4a6aae"/>
<rect x="319.56" y="296.15" width="2.88" height="10.10" fill="#4a6aae"/>
<rect x="324.04" y="296.15" width="2.88" height="10.10" fill="#4a6aae"/>
<rect x="328.53" y="296.15" width="2.88" height="10.10" fill="#4a6aae"/>
<rect x="333.01" y="296.15" width="2.88" height="10.10" fill="#4a6aae"/>
<rect x="337.49" y="296.15" width="2.88" height="10.10" fill="#4a6aae"/>
<rect x="341.97" y="296.15" width="2.88" height="10.10" fill="#4a6aae"/>
<rect x="77.26" y="308.15" width="2.88" height="10.10" fill="#4a6aae"/>
<rect x="81.74" y="308.15" width="2.88" height="10.10" fill="#4a6aae"/>
<rect x="86.23" y="308.15" width="2.88" height="10.10" fill="#4a6aae"/>
<rect x="90.71" y="308.15" width="2.88" height="10.10" fill="#4a6aae"/>
<rect x="95.19" y="308.15" width="2.88" height="10.10" fill="#4a6aae"/>
<rect x="99.67" y="308.15" width="2.88" height="10.10" fill="#4a6aae"/>
<rect x="104.16" y="308.15" width="2.88" height="10.10" fill="#4a6aae"/>
<rect x="108.64" y="308.15" width="2.88" height="10.10" fill="#4a6aae"/>
<rect x="113.12" y="308.15" width="2.88" height="10.10" fill="#4a6aae"/>
<rect x="117.61" y="308.15" width="2.88" height="10.10" fill="#4a6aae"/>
<rect x="122.09" y="308.15" width="2.88" height="10.10" fill="#4a6aae"/>
<rect x="126.57" y="308.15" width="2.88" height="10.10" fill="#4a6aae"/>
<rect x="131.06" y="308.15" width="2.88" height="10.10" fill="#4a6aae"/>
<rect x="135.54" y="308.15" width="2.88" height="10.10" fill="#4a6aae"/>
<rect x="140.02" y="308.15" width="2.88" height="10.10" fill="#4a6aae"/>
<rect x="144.50" y="308.15" width="2.88" height="10.10" fill="#4a6aae"/>
<rect x="148.99" y="308.15" width="2.88" height="10.10" fill="#4a6aae"/>
<rect x="153.47" y="308.15" width="2.88" height="10.10" fill="#4a6aae"/>
<rect x="157.95" y="308.15" width="2.88" height="10.10" fill="#4a6aae"/>
<rect x="162.44" y="308.15" width="2.88" height="10.10" fill="#4a6aae"/>
<rect x="166.92" y="308.15" width="2.88" height="10.10" fill="#4a6aae"/>
<rect x="171.40" y="308.15" width="2.88" height="10.10" fill="#4a6aae"/>
<rect x="175.89" y="308.15" width="2.88" height="10.10" fill="#4a6aae"/>
<rect x="180.37" y="308.15" width="2.88" height="10.10" fill="#4a6aae"/>
<rect x="184.85" y="308.15" width="2.88" height="10.10" fill="#4a6aae"/>
<rect x="189.33" y="308.15" width="2.88" height="10.10" fill="#4a6aae"/>
<rect x="193.82" y="308.15" width="2.88" height="10.10" fill="#4a6aae"/>
<rect x="198.30" y="308.15" width="2.88" height="10.10" fill="#4a6aae"/>
<rect x="202.78" y="308.15" width="2.88" height="10.10" fill="#4a6aae"/>
<rect x="207.27" y="308.15" width="2.88" height="10.10" fill="#4a6aae"/>
<rect x="217.80" y="308.15" width="2.88" height="10.10" fill="#4a6aae"/>
<rect x="222.28" y="308.15" width="2.88" height="10.10" fill="#4a6aae"/>
<rect x="226.77" y="308.15" width="2.88" height="10.10" fill="#4a6aae"/>
<rect x="231.25" y="308.15" width="2.88" height="10.10" fill="#4a6aae"/>
<rect x="235.73" y="308.15" width="2.88" height="10.10" fill="#4a6aae"/>
<rect x="240.22" y="308.15" width="2.88" height="10.10" fill="#4a6aae"/>
<rect x="244.70" y="308.15" width="2.88" height="10.10" fill="#4a6aae"/>
<rect x="249.18" y="308.15" width="2.88" height="10.10" fill="#4a6aae"/>
<rect x="253.66" y="308.15" width="2.88" height="10.10" fill="#4a6aae"/>
<rect x="264.20" y="308.15" width="2.88" height="10.10" fill="#4a6aae"/>
<rect x="268.68" y="308.15" width="2.88" height="10.10" fill="#4a6aae"/>
<rect x="273.16" y="308.15" width="2.88" height="10.10" fill="#4a6aae"/>
<rect x="277.65" y="308.15" width="2.88" height="10.10" fill="#4a6aae"/>
<rect x="282.13" y="308.15" width="2.88" height="10.10" fill="#4a6aae"/>
<rect x="286.61" y="308.15" width="2.88" height="10.10" fill="#4a6aae"/>
<rect x="291.10" y="308.15" width="2.88" height="10.10" fill="#4a6aae"/>
<rect x="295.58" y="308.15" width="2.88" height="10.10" fill="#4a6aae"/>
<rect x="306.11" y="308.15" width="2.88" height="10.10" fill="#4a6aae"/>
<rect x="310.59" y="308.15" width="2.88" height="10.10" fill="#4a6aae"/>
<rect x="315.08" y="308.15" width="2.88" height="10.10" fill="#4a6aae"/>
<rect x="319.56" y="308.15" width="2.88" height="10.10" fill="#4a6aae"/>
<rect x="324.04" y="308.15" width="2.88" height="10.10" fill="#4a6aae"/>
<rect x="328.53" y="308.15" width="2.88" height="10.10" fill="#4a6aae"/>
<rect x="333.01" y="308.15" width="2.88" height="10.10" fill="#4a6aae"/>
<rect x="337.49" y="308.15" width="2.88" height="10.10" fill="#4a6aae"/>
<rect x="341.97" y="308.15" width="2.88" height="10.10" fill="#4a6aae"/>
<rect x="77.26" y="320.15" width="2.88" height="10.10" fill="#4a6aae"/>
<rect x="81.74" y="320.15" width="2.88" height="10.10" fill="#4a6aae"/>
<rect x="86.23" y="320.15" width="2.88" height="10.10" fill="#4a6aae"/>
<rect x="90.71" y="320.15" width="2.88" height="10.10" fill="#4a6aae"/>
<rect x="95.19" y="320.15" width="2.88" height="10.10" fill="#4a6aae"/>
<rect x="99.67" y="320.15" width="2.88" height="10.10" fill="#4a6aae"/>
<rect x="104.16" y="320.15" width="2.88" height="10.10" fill="#4a6aae"/>
<rect x="108.64" y="320.15" width="2.88" height="10.10" fill="#4a6aae"/>
<rect x="113.12" y="320.15" width="2.88" height="10.10" fill="#4a6aae"/>
<rect x="117.61" y="320.15" width="2.88" height="10.10" fill="#4a6aae"/>
<rect x="122.09" y="320.15" width="2.88" height="10.10" fill="#4a6aae"/>
<rect x="126.57" y="320.15" width="2.88" height="10.10" fill="#4a6aae"/>
<rect x="131.06" y="320.15" width="2.88" height="10.10" fill="#4a6aae"/>
<rect x="135.54" y="320.15" width="2.88" height="10.10" fill="#4a6aae"/>
<rect x="140.02" y="320.15" width="2.88" height="10.10" fill="#4a6aae"/>
<rect x="144.50" y="320.15" width="2.88" height="10.10" fill="#4a6aae"/>
<rect x="148.99" y="320.15" width="2.88" height="10.10" fill="#4a6aae"/>
<rect x="153.47" y="320.15" width="2.88" height="10.10" fill="#4a6aae"/>
<rect x="157.95" y="320.15" width="2.88" height="10.10" fill="#4a6aae"/>
<rect x="162.44" y="320.15" width="2.88" height="10.10" fill="#4a6aae"/>
<rect x="166.92" y="320.15" width="2.88" height="10.10" fill="#4a6aae"/>
<rect x="171.40" y="320.15" width="2.88" height="10.10" fill="#4a6aae"/>
<rect x="175.89" y="320.15" width="2.88" height="10.10" fill="#4a6aae"/>
<rect x="180.37" y="320.15" width="2.88" height="10.10" fill="#4a6aae"/>
<rect x="184.85" y="320.15" width="2.88" height="10.10" fill="#4a6aae"/>
<rect x="189.33" y="320.15" width="2.88" height="10.10" fill="#4a6aae"/>
<rect x="193.82" y="320.15" width="2.88" height="10.10" fill="#4a6aae"/>
<rect x="198.30" y="320.15" width="2.88" height="10.10" fill="#4a6aae"/>
<rect x="202.78" y="320.15" width="2.88" height="10.10" fill="#4a6aae"/>
<rect x="207.27" y="320.15" width="2.88" height="10.10" fill="#4a6aae"/>
<rect x="217.80" y="320.15" width="2.88" height="10.10" fill="#4a6aae"/>
<rect x="222.28" y="320.15" width="2.88" height="10.10" fill="#4a6aae"/>
<rect x="226.77" y="320.15" width="2.88" height="10.10" fill="#4a6aae"/>
<rect x="231.25" y="320.15" width="2.88" height="10.10" fill="#4a6aae"/>
<rect x="235.73" y="320.15" width="2.88" height="10.10" fill="#4a6aae"/>
<rect x="240.22" y="320.15" width="2.88" height="10.10" fill="#4a6aae"/>
<rect x="244.70" y="320.15" width="2.88" height="10.10" fill="#4a6aae"/>
<rect x="249.18" y="320.15" width="2.88" height="10.10" fill="#4a6aae"/>
<rect x="253.66" y="320.15" width="2.88" height="10.10" fill="#4a6aae"/>
<rect x="264.20" y="320.15" width="2.88" height="10.10" fill="#4a6aae"/>
<rect x="268.68" y="320.15" width="2.88" height="10.10" fill="#4a6aae"/>
<rect x="273.16" y="320.15" width="2.88" height="10.10" fill="#4a6aae"/>
<rect x="277.65" y="320.15" width="2.88" height="10.10" fill="#4a6aae"/>
<rect x="282.13" y="320.15" width="2.88" height="10.10" fill="#4a6aae"/>
<rect x="286.61" y="320.15" width="2.88" height="10.10" fill="#4a6aae"/>
<rect x="291.10" y="320.15" width="2.88" height="10.10" fill="#4a6aae"/>
<rect x="295.58" y="320.15" width="2.88" height="10.10" fill="#4a6aae"/>
<rect x="306.11" y="320.15" width="2.88" height="10.10" fill="#4a6aae"/>
<rect x="310.59" y="320.15" width="2.88" height="10.10" fill="#4a6aae"/>
<rect x="315.08" y="320.15" width="2.88" height="10.10" fill="#4a6aae"/>
<rect x="319.56" y="320.15" width="2.88" height="10.10" fill="#4a6aae"/>
<rect x="324.04" y="320.15" width="2.88" height="10.10" fill="#4a6aae"/>
<rect x="328.53" y="320.15" width="2.88" height="10.10" fill="#4a6aae"/>
<rect x="333.01" y="320.15" width="2.88" height="10.10" fill="#4a6aae"/>
<rect x="337.49" y="320.15" width="2.88" height="10.10" fill="#4a6aae"/>
<rect x="341.97" y="320.15" width="2.88" height="10.10" fill="#4a6aae"/>
<rect x="77.26" y="338.15" width="2.88" height="10.10" fill="#faf1b8"/>
<rect x="81.74" y="338.15" width="2.88" height="10.10" fill="#4a6aae"/>
<rect x="86.23" y="338.15" width="2.88" height="10.10" fill="#4a6aae"/>
<rect x="90.71" y="338.15" width="2.88" height="10.10" fill="#4a6aae"/>
<rect x="95.19" y="338.15" width="2.88" height="10.10" fill="#4a6aae"/>
<rect x="99.67" y="338.15" width="2.88" height="10.10" fill="#faf1b8"/>
<rect x="104.16" y="338.15" width="2.88" height="10.10" fill="#4a6aae"/>
<rect x="108.64" y="338.15" width="2.88" height="10.10" fill="#4a6aae"/>
<rect x="113.12" y="338.15" width="2.88" height="10.10" fill="#4a6aae"/>
<rect x="117.61" y="338.15" width="2.88" height="10.10" fill="#4a6aae"/>
<rect x="122.09" y="338.15" width="2.88" height="10.10" fill="#4a6aae"/>
<rect x="126.57" y="338.15" width="2.88" height="10.10" fill="#4a6aae"/>
<rect x="131.06" y="338.15" width="2.88" height="10.10" fill="#4a6aae"/>
<rect x="135.54" y="338.15" width="2.88" height="10.10" fill="#4a6aae"/>
<rect x="140.02" y="338.15" width="2.88" height="10.10" fill="#4a6aae"/>
<rect x="144.50" y="338.15" width="2.88" height="10.10" fill="#4a6aae"/>
<rect x="148.99" y="338.15" width="2.88" height="10.10" fill="#4a6aae"/>
<rect x="153.47" y="338.15" width="2.88" height="10.10" fill="#4a6aae"/>
<rect x="157.95" y="338.15" width="2.88" height="10.10" fill="#4a6aae"/>
<rect x="162.44" y="338.15" width="2.88" height="10.10" fill="#4a6aae"/>
<rect x="166.92" y="338.15" width="2.88" height="10.10" fill="#4a6aae"/>
<rect x="171.40" y="338.15" width="2.88" height="10.10" fill="#4a6aae"/>
<rect x="175.89" y="338.15" width="2.88" height="10.10" fill="#4a6aae"/>
<rect x="180.37" y="338.15" width="2.88" height="10.10" fill="#4a6aae"/>
<rect x="184.85" y="338.15" width="2.88" height="10.10" fill="#eef1dc"/>
<rect x="189.33" y="338.15" width="2.88" height="10.10" fill="#4a6aae"/>
<rect x="193.82" y="338.15" width="2.88" height="10.10" fill="#4a6aae"/>
<rect x="198.30" y="338.15" width="2.88" height="10.10" fill="#4a6aae"/>
<rect x="202.78" y="338.15" width="2.88" height="10.10" fill="#4a6aae"/>
<rect x="207.27" y="338.15" width="2.88" height="10.10" fill="#4a6aae"/>
<rect x="217.80" y="338.15" width="2.88" height="10.10" fill="#4a6aae"/>
<rect x="222.28" y="338.15" width="2.88" height="10.10" fill="#4a6aae"/>
<rect x="226.77" y="338.15" width="2.88" height="10.10" fill="#4a6aae"/>
<rect x="231.25" y="338.15" width="2.88" height="10.10" fill="#4a6aae"/>
<rect x="235.73" y="338.15" width="2.88" height="10.10" fill="#4a6aae"/>
<rect x="240.22" y="338.15" width="2.88" height="10.10" fill="#4a6aae"/>
<rect x="244.70" y="338.15" width="2.88" height="10.10" fill="#4a6aae"/>
<rect x="249.18" y="338.15" width="2.88" height="10.10" fill="#4a6aae"/>
<rect x="253.66" y="338.15" width="2.88" height="10.10" fill="#4a6aae"/>
<rect x="264.20" y="338.15" width="2.88" height="10.10" fill="#d3e4ef"/>
<rect x="268.68" y="338.15" width="2.88" height="10.10" fill="#faf1b8"/>
<rect x="273.16" y="338.15" width="2.88" height="10.10" fill="#efbd77"/>
<rect x="277.65" y="338.15" width="2.88" height="10.10" fill="#faf1b8"/>
<rect x="282.13" y="338.15" width="2.88" height="10.10" fill="#4a6aae"/>
<rect x="286.61" y="338.15" width="2.88" height="10.10" fill="#f6dc94"/>
<rect x="291.10" y="338.15" width="2.88" height="10.10" fill="#f6dc94"/>
<rect x="295.58" y="338.15" width="2.88" height="10.10" fill="#efbd77"/>
<rect x="306.11" y="338.15" width="2.88" height="10.10" fill="#faf1b8"/>
<rect x="310.59" y="338.15" width="2.88" height="10.10" fill="#4a6aae"/>
<rect x="315.08" y="338.15" width="2.88" height="10.10" fill="#faf1b8"/>
<rect x="319.56" y="338.15" width="2.88" height="10.10" fill="#faf1b8"/>
<rect x="324.04" y="338.15" width="2.88" height="10.10" fill="#efbd77"/>
<rect x="328.53" y="338.15" width="2.88" height="10.10" fill="#faf1b8"/>
<rect x="333.01" y="338.15" width="2.88" height="10.10" fill="#f6dc94"/>
<rect x="337.49" y="338.15" width="2.88" height="10.10" fill="#f6dc94"/>
<rect x="341.97" y="338.15" width="2.88" height="10.10" fill="#bf2c24"/>
<rect x="77.26" y="350.15" width="2.88" height="10.10" fill="#4a6aae"/>
<rect x="81.74" y="350.15" width="2.88" height="10.10" fill="#4a6aae"/>
<rect x="86.23" y="350.15" width="2.88" height="10.10" fill="#4a6aae"/>
<rect x="90.71" y="350.15" width="2.88" height="10.10" fill="#4a6aae"/>
<rect x="95.19" y="350.15" width="2.88" height="10.10" fill="#4a6aae"/>
<rect x="99.67" y="350.15" width="2.88" height="10.10" fill="#4a6aae"/>
<rect x="104.16" y="350.15" width="2.88" height="10.10" fill="#f6dc94"/>
<rect x="108.64" y="350.15" width="2.88" height="10.10" fill="#4a6aae"/>
<rect x="113.12" y="350.15" width="2.88" height="10.10" fill="#4a6aae"/>
<rect x="117.61" y="350.15" width="2.88" height="10.10" fill="#4a6aae"/>
<rect x="122.09" y="350.15" width="2.88" height="10.10" fill="#4a6aae"/>
<rect x="126.57" y="350.15" width="2.88" height="10.10" fill="#4a6aae"/>
<rect x="131.06" y="350.15" width="2.88" height="10.10" fill="#4a6aae"/>
<rect x="135.54" y="350.15" width="2.88" height="10.10" fill="#4a6aae"/>
<rect x="140.02" y="350.15" width="2.88" height="10.10" fill="#4a6aae"/>
<rect x="144.50" y="350.15" width="2.88" height="10.10" fill="#4a6aae"/>
<rect x="148.99" y="350.15" width="2.88" height="10.10" fill="#4a6aae"/>
<rect x="153.47" y="350.15" width="2.88" height="10.10" fill="#4a6aae"/>
<rect x="157.95" y="350.15" width="2.88" height="10.10" fill="#4a6aae"/>
<rect x="162.44" y="350.15" width="2.88" height="10.10" fill="#4a6aae"/>
<rect x="166.92" y="350.15" width="2.88" height="10.10" fill="#4a6aae"/>
<rect x="171.40" y="350.15" width="2.88" height="10.10" fill="#faf1b8"/>
<rect x="175.89" y="350.15" width="2.88" height="10.10" fill="#faf1b8"/>
<rect x="180.37" y="350.15" width="2.88" height="10.10" fill="#faf1b8"/>
<rect x="184.85" y="350.15" width="2.88" height="10.10" fill="#eef1dc"/>
<rect x="189.33" y="350.15" width="2.88" height="10.10" fill="#4a6aae"/>
<rect x="193.82" y="350.15" width="2.88" height="10.10" fill="#faf1b8"/>
<rect x="198.30" y="350.15" width="2.88" height="10.10" fill="#4a6aae"/>
<rect x="202.78" y="350.15" width="2.88" height="10.10" fill="#4a6aae"/>
<rect x="207.27" y="350.15" width="2.88" height="10.10" fill="#4a6aae"/>
<rect x="217.80" y="350.15" width="2.88" height="10.10" fill="#4a6aae"/>
<rect x="222.28" y="350.15" width="2.88" height="10.10" fill="#4a6aae"/>
<rect x="226.77" y="350.15" width="2.88" height="10.10" fill="#4a6aae"/>
<rect x="231.25" y="350.15" width="2.88" height="10.10" fill="#faf1b8"/>
<rect x="235.73" y="350.15" width="2.88" height="10.10" fill="#f6dc94"/>
<rect x="240.22" y="350.15" width="2.88" height="10.10" fill="#4a6aae"/>
<rect x="244.70" y="350.15" width="2.88" height="10.10" fill="#faf1b8"/>
<rect x="249.18" y="350.15" width="2.88" height="10.10" fill="#faf1b8"/>
<rect x="253.66" y="350.15" width="2.88" height="10.10" fill="#f6dc94"/>
<rect x="264.20" y="350.15" width="2.88" height="10.10" fill="#faf1b8"/>
<rect x="268.68" y="350.15" width="2.88" height="10.10" fill="#f6dc94"/>
<rect x="273.16" y="350.15" width="2.88" height="10.10" fill="#bf2c24"/>
<rect x="277.65" y="350.15" width="2.88" height="10.10" fill="#faf1b8"/>
<rect x="282.13" y="350.15" width="2.88" height="10.10" fill="#faf1b8"/>
<rect x="286.61" y="350.15" width="2.88" height="10.10" fill="#faf1b8"/>
<rect x="291.10" y="350.15" width="2.88" height="10.10" fill="#f6dc94"/>
<rect x="295.58" y="350.15" width="2.88" height="10.10" fill="#faf1b8"/>
<rect x="306.11" y="350.15" width="2.88" height="10.10" fill="#faf1b8"/>
<rect x="310.59" y="350.15" width="2.88" height="10.10" fill="#4a6aae"/>
<rect x="315.08" y="350.15" width="2.88" height="10.10" fill="#4a6aae"/>
<rect x="319.56" y="350.15" width="2.88" height="10.10" fill="#faf1b8"/>
<rect x="324.04" y="350.15" width="2.88" height="10.10" fill="#f6dc94"/>
<rect x="328.53" y="350.15" width="2.88" height="10.10" fill="#4a6aae"/>
<rect x="333.01" y="350.15" width="2.88" height="10.10" fill="#4a6aae"/>
<rect x="337.49" y="350.15" width="2.88" height="10.10" fill="#4a6aae"/>
<rect x="341.97" y="350.15" width="2.88" height="10.10" fill="#4a6aae"/>
<rect x="77.26" y="368.15" width="2.88" height="10.10" fill="#eef1dc"/>
<rect x="81.74" y="368.15" width="2.88" height="10.10" fill="#4a6aae"/>
<rect x="86.23" y="368.15" width="2.88" height="10.10" fill="#4a6aae"/>
<rect x="90.71" y="368.15" width="2.88" height="10.10" fill="#4a6aae"/>
<rect x="95.19" y="368.15" width="2.88" height="10.10" fill="#4a6aae"/>
<rect x="99.67" y="368.15" width="2.88" height="10.10" fill="#eef1dc"/>
<rect x="104.16" y="368.15" width="2.88" height="10.10" fill="#faf1b8"/>
<rect x="108.64" y="368.15" width="2.88" height="10.10" fill="#faf1b8"/>
<rect x="113.12" y="368.15" width="2.88" height="10.10" fill="#faf1b8"/>
<rect x="117.61" y="368.15" width="2.88" height="10.10" fill="#faf1b8"/>
<rect x="122.09" y="368.15" width="2.88" height="10.10" fill="#4a6aae"/>
<rect x="126.57" y="368.15" width="2.88" height="10.10" fill="#bf2c24"/>
<rect x="131.06" y="368.15" width="2.88" height="10.10" fill="#faf1b8"/>
<rect x="135.54" y="368.15" width="2.88" height="10.10" fill="#eef1dc"/>
<rect x="140.02" y="368.15" width="2.88" height="10.10" fill="#eef1dc"/>
<rect x="144.50" y="368.15" width="2.88" height="10.10" fill="#faf1b8"/>
<rect x="148.99" y="368.15" width="2.88" height="10.10" fill="#faf1b8"/>
<rect x="153.47" y="368.15" width="2.88" height="10.10" fill="#eef1dc"/>
<rect x="157.95" y="368.15" width="2.88" height="10.10" fill="#eef1dc"/>
<rect x="162.44" y="368.15" width="2.88" height="10.10" fill="#eef1dc"/>
<rect x="166.92" y="368.15" width="2.88" height="10.10" fill="#eef1dc"/>
<rect x="171.40" y="368.15" width="2.88" height="10.10" fill="#eef1dc"/>
<rect x="175.89" y="368.15" width="2.88" height="10.10" fill="#faf1b8"/>
<rect x="180.37" y="368.15" width="2.88" height="10.10" fill="#eef1dc"/>
<rect x="184.85" y="368.15" width="2.88" height="10.10" fill="#d3e4ef"/>
<rect x="189.33" y="368.15" width="2.88" height="10.10" fill="#eef1dc"/>
<rect x="193.82" y="368.15" width="2.88" height="10.10" fill="#eef1dc"/>
<rect x="198.30" y="368.15" width="2.88" height="10.10" fill="#4a6aae"/>
<rect x="202.78" y="368.15" width="2.88" height="10.10" fill="#4a6aae"/>
<rect x="207.27" y="368.15" width="2.88" height="10.10" fill="#faf1b8"/>
<rect x="217.80" y="368.15" width="2.88" height="10.10" fill="#d3e4ef"/>
<rect x="222.28" y="368.15" width="2.88" height="10.10" fill="#d3e4ef"/>
<rect x="226.77" y="368.15" width="2.88" height="10.10" fill="#eef1dc"/>
<rect x="231.25" y="368.15" width="2.88" height="10.10" fill="#eef1dc"/>
<rect x="235.73" y="368.15" width="2.88" height="10.10" fill="#4a6aae"/>
<rect x="240.22" y="368.15" width="2.88" height="10.10" fill="#faf1b8"/>
<rect x="244.70" y="368.15" width="2.88" height="10.10" fill="#faf1b8"/>
<rect x="249.18" y="368.15" width="2.88" height="10.10" fill="#4a6aae"/>
<rect x="253.66" y="368.15" width="2.88" height="10.10" fill="#4a6aae"/>
<rect x="264.20" y="368.15" width="2.88" height="10.10" fill="#eef1dc"/>
<rect x="268.68" y="368.15" width="2.88" height="10.10" fill="#4a6aae"/>
<rect x="273.16" y="368.15" width="2.88" height="10.10" fill="#4a6aae"/>
<rect x="277.65" y="368.15" width="2.88" height="10.10" fill="#4a6aae"/>
<rect x="282.13" y="368.15" width="2.88" height="10.10" fill="#4a6aae"/>
<rect x="286.61" y="368.15" width="2.88" height="10.10" fill="#eef1dc"/>
<rect x="291.10" y="368.15" width="2.88" height="10.10" fill="#4a6aae"/>
<rect x="295.58" y="368.15" width="2.88" height="10.10" fill="#4a6aae"/>
<rect x="306.11" y="368.15" width="2.88" height="10.10" fill="#4a6aae"/>
<rect x="310.59" y="368.15" width="2.88" height="10.10" fill="#4a6aae"/>
<rect x="315.08" y="368.15" width="2.88" height="10.10" fill="#4a6aae"/>
<rect x="319.56" y="368.15" width="2.88" height="10.10" fill="#4a6aae"/>
<rect x="324.04" y="368.15" width="2.88" height="10.10" fill="#4a6aae"/>
<rect x="328.53" y="368.15" width="2.88" height="10.10" fill="#4a6aae"/>
<rect x="333.01" y="368.15" width="2.88" height="10.10" fill="#4a6aae"/>
<rect x="337.49" y="368.15" width="2.88" height="10.10" fill="#4a6aae"/>
<rect x="341.97" y="368.15" width="2.88" height="10.10" fill="#4a6aae"/>
<rect x="77.26" y="380.15" width="2.88" height="10.10" fill="#4a6aae"/>
<rect x="81.74" y="380.15" width="2.88" height="10.10" fill="#4a6aae"/>
<rect x="86.23" y="380.15" width="2.88" height="10.10" fill="#4a6aae"/>
<rect x="90.71" y="380.15" width="2.88" height="10.10" fill="#4a6aae"/>
<rect x="95.19" y="380.15" width="2.88" height="10.10" fill="#faf1b8"/>
<rect x="99.67" y="380.15" width="2.88" height="10.10" fill="#4a6aae"/>
<rect x="104.16" y="380.15" width="2.88" height="10.10" fill="#4a6aae"/>
<rect x="108.64" y="380.15" width="2.88" height="10.10" fill="#4a6aae"/>
<rect x="113.12" y="380.15" width="2.88" height="10.10" fill="#f6dc94"/>
<rect x="117.61" y="380.15" width="2.88" height="10.10" fill="#efbd77"/>
<rect x="122.09" y="380.15" width="2.88" height="10.10" fill="#4a6aae"/>
<rect x="126.57" y="380.15" width="2.88" height="10.10" fill="#4a6aae"/>
<rect x="131.06" y="380.15" width="2.88" height="10.10" fill="#4a6aae"/>
<rect x="135.54" y="380.15" width="2.88" height="10.10" fill="#faf1b8"/>
<rect x="140.02" y="380.15" width="2.88" height="10.10" fill="#faf1b8"/>
<rect x="144.50" y="380.15" width="2.88" height="10.10" fill="#e08650"/>
<rect x="148.99" y="380.15" width="2.88" height="10.10" fill="#e08650"/>
<rect x="153.47" y="380.15" width="2.88" height="10.10" fill="#e08650"/>
<rect x="157.95" y="380.15" width="2.88" height="10.10" fill="#faf1b8"/>
<rect x="162.44" y="380.15" width="2.88" height="10.10" fill="#faf1b8"/>
<rect x="166.92" y="380.15" width="2.88" height="10.10" fill="#f6dc94"/>
<rect x="171.40" y="380.15" width="2.88" height="10.10" fill="#faf1b8"/>
<rect x="175.89" y="380.15" width="2.88" height="10.10" fill="#e08650"/>
<rect x="180.37" y="380.15" width="2.88" height="10.10" fill="#eef1dc"/>
<rect x="184.85" y="380.15" width="2.88" height="10.10" fill="#faf1b8"/>
<rect x="189.33" y="380.15" width="2.88" height="10.10" fill="#faf1b8"/>
<rect x="193.82" y="380.15" width="2.88" height="10.10" fill="#e08650"/>
<rect x="198.30" y="380.15" width="2.88" height="10.10" fill="#f6dc94"/>
<rect x="202.78" y="380.15" width="2.88" height="10.10" fill="#faf1b8"/>
<rect x="207.27" y="380.15" width="2.88" height="10.10" fill="#e08650"/>
<rect x="217.80" y="380.15" width="2.88" height="10.10" fill="#faf1b8"/>
<rect x="222.28" y="380.15" width="2.88" height="10.10" fill="#efbd77"/>
<rect x="226.77" y="380.15" width="2.88" height="10.10" fill="#e08650"/>
<rect x="231.25" y="380.15" width="2.88" height="10.10" fill="#e08650"/>
<rect x="235.73" y="380.15" width="2.88" height="10.10" fill="#eef1dc"/>
<rect x="240.22" y="380.15" width="2.88" height="10.10" fill="#4a6aae"/>
<rect x="244.70" y="380.15" width="2.88" height="10.10" fill="#4a6aae"/>
<rect x="249.18" y="380.15" width="2.88" height="10.10" fill="#4a6aae"/>
<rect x="253.66" y="380.15" width="2.88" height="10.10" fill="#4a6aae"/>
<rect x="264.20" y="380.15" width="2.88" height="10.10" fill="#4a6aae"/>
<rect x="268.68" y="380.15" width="2.88" height="10.10" fill="#4a6aae"/>
<rect x="273.16" y="380.15" width="2.88" height="10.10" fill="#4a6aae"/>
<rect x="277.65" y="380.15" width="2.88" height="10.10" fill="#4a6aae"/>
<rect x="282.13" y="380.15" width="2.88" height="10.10" fill="#faf1b8"/>
<rect x="286.61" y="380.15" width="2.88" height="10.10" fill="#4a6aae"/>
<rect x="291.10" y="380.15" width="2.88" height="10.10" fill="#4a6aae"/>
<rect x="295.58" y="380.15" width="2.88" height="10.10" fill="#4a6aae"/>
<rect x="306.11" y="380.15" width="2.88" height="10.10" fill="#4a6aae"/>
<rect x="310.59" y="380.15" width="2.88" height="10.10" fill="#4a6aae"/>
<rect x="315.08" y="380.15" width="2.88" height="10.10" fill="#4a6aae"/>
<rect x="319.56" y="380.15" width="2.88" height="10.10" fill="#4a6aae"/>
<rect x="324.04" y="380.15" width="2.88" height="10.10" fill="#4a6aae"/>
<rect x="328.53" y="380.15" width="2.88" height="10.10" fill="#4a6aae"/>
<rect x="333.01" y="380.15" width="2.88" height="10.10" fill="#4a6aae"/>
<rect x="337.49" y="380.15" width="2.88" height="10.10" fill="#4a6aae"/>
<rect x="341.97" y="380.15" width="2.88" height="10.10" fill="#4a6aae"/>
<rect x="77.26" y="392.15" width="2.88" height="10.10" fill="#4a6aae"/>
<rect x="81.74" y="392.15" width="2.88" height="10.10" fill="#4a6aae"/>
<rect x="86.23" y="392.15" width="2.88" height="10.10" fill="#4a6aae"/>
<rect x="90.71" y="392.15" width="2.88" height="10.10" fill="#4a6aae"/>
<rect x="95.19" y="392.15" width="2.88" height="10.10" fill="#4a6aae"/>
<rect x="99.67" y="392.15" width="2.88" height="10.10" fill="#faf1b8"/>
<rect x="104.16" y="392.15" width="2.88" height="10.10" fill="#4a6aae"/>
<rect x="108.64" y="392.15" width="2.88" height="10.10" fill="#4a6aae"/>
<rect x="113.12" y="392.15" width="2.88" height="10.10" fill="#4a6aae"/>
<rect x="117.61" y="392.15" width="2.88" height="10.10" fill="#4a6aae"/>
<rect x="122.09" y="392.15" width="2.88" height="10.10" fill="#4a6aae"/>
<rect x="126.57" y="392.15" width="2.88" height="10.10" fill="#4a6aae"/>
<rect x="131.06" y="392.15" width="2.88" height="10.10" fill="#4a6aae"/>
<rect x="135.54" y="392.15" width="2.88" height="10.10" fill="#eef1dc"/>
<rect x="140.02" y="392.15" width="2.88" height="10.10" fill="#faf1b8"/>
<rect x="144.50" y="392.15" width="2.88" height="10.10" fill="#f6dc94"/>
<rect x="148.99" y="392.15" width="2.88" height="10.10" fill="#efbd77"/>
<rect x="153.47" y="392.15" width="2.88" height="10.10" fill="#faf1b8"/>
<rect x="157.95" y="392.15" width="2.88" height="10.10" fill="#f6dc94"/>
<rect x="162.44" y="392.15" width="2.88" height="10.10" fill="#f6dc94"/>
<rect x="166.92" y="392.15" width="2.88" height="10.10" fill="#f6dc94"/>
<rect x="171.40" y="392.15" width="2.88" height="10.10" fill="#eef1dc"/>
<rect x="175.89" y="392.15" width="2.88" height="10.10" fill="#eef1dc"/>
<rect x="180.37" y="392.15" width="2.88" height="10.10" fill="#eef1dc"/>
<rect x="184.85" y="392.15" width="2.88" height="10.10" fill="#eef1dc"/>
<rect x="189.33" y="392.15" width="2.88" height="10.10" fill="#eef1dc"/>
<rect x="193.82" y="392.15" width="2.88" height="10.10" fill="#f6dc94"/>
<rect x="198.30" y="392.15" width="2.88" height="10.10" fill="#f6dc94"/>
<rect x="202.78" y="392.15" width="2.88" height="10.10" fill="#4a6aae"/>
<rect x="207.27" y="392.15" width="2.88" height="10.10" fill="#efbd77"/>
<rect x="217.80" y="392.15" width="2.88" height="10.10" fill="#faf1b8"/>
<rect x="222.28" y="392.15" width="2.88" height="10.10" fill="#f6dc94"/>
<rect x="226.77" y="392.15" width="2.88" height="10.10" fill="#faf1b8"/>
<rect x="231.25" y="392.15" width="2.88" height="10.10" fill="#f6dc94"/>
<rect x="235.73" y="392.15" width="2.88" height="10.10" fill="#eef1dc"/>
<rect x="240.22" y="392.15" width="2.88" height="10.10" fill="#faf1b8"/>
<rect x="244.70" y="392.15" width="2.88" height="10.10" fill="#4a6aae"/>
<rect x="249.18" y="392.15" width="2.88" height="10.10" fill="#faf1b8"/>
<rect x="253.66" y="392.15" width="2.88" height="10.10" fill="#4a6aae"/>
<rect x="264.20" y="392.15" width="2.88" height="10.10" fill="#4a6aae"/>
<rect x="268.68" y="392.15" width="2.88" height="10.10" fill="#4a6aae"/>
<rect x="273.16" y="392.15" width="2.88" height="10.10" fill="#4a6aae"/>
<rect x="277.65" y="392.15" width="2.88" height="10.10" fill="#faf1b8"/>
<rect x="282.13" y="392.15" width="2.88" height="10.10" fill="#4a6aae"/>
<rect x="286.61" y="392.15" width="2.88" height="10.10" fill="#4a6aae"/>
<rect x="291.10" y="392.15" width="2.88" height="10.10" fill="#4a6aae"/>
<rect x="295.58" y="392.15" width="2.88" height="10.10" fill="#4a6aae"/>
<rect x="306.11" y="392.15" width="2.88" height="10.10" fill="#4a6aae"/>
<rect x="310.59" y="392.15" width="2.88" height="10.10" fill="#4a6aae"/>
<rect x="315.08" y="392.15" width="2.88" height="10.10" fill="#4a6aae"/>
<rect x="319.56" y="392.15" width="2.88" height="10.10" fill="#4a6aae"/>
<rect x="324.04" y="392.15" width="2.88" height="10.10" fill="#4a6aae"/>
<rect x="328.53" y="392.15" width="2.88" height="10.10" fill="#4a6aae"/>
<rect x="333.01" y="392.15" width="2.88" height="10.10" fill="#4a6aae"/>
<rect x="337.49" y="392.15" width="2.88" height="10.10" fill="#4a6aae"/>
<rect x="341.97" y="392.15" width="2.88" height="10.10" fill="#4a6aae"/>
<rect x="77.26" y="404.15" width="2.88" height="10.10" fill="#4a6aae"/>
<rect x="81.74" y="404.15" width="2.88" height="10.10" fill="#4a6aae"/>
<rect x="86.23" y="404.15" width="2.88" height="10.10" fill="#4a6aae"/>
<rect x="90.71" y="404.15" width="2.88" height="10.10" fill="#4a6aae"/>
<rect x="95.19" y="404.15" width="2.88" height="10.10" fill="#4a6aae"/>
<rect x="99.67" y="404.15" width="2.88" height="10.10" fill="#4a6aae"/>
<rect x="104.16" y="404.15" width="2.88" height="10.10" fill="#4a6aae"/>
<rect x="108.64" y="404.15" width="2.88" height="10.10" fill="#4a6aae"/>
<rect x="113.12" y="404.15" width="2.88" height="10.10" fill="#4a6aae"/>
<rect x="117.61" y="404.15" width="2.88" height="10.10" fill="#4a6aae"/>
<rect x="122.09" y="404.15" width="2.88" height="10.10" fill="#faf1b8"/>
<rect x="126.57" y="404.15" width="2.88" height="10.10" fill="#4a6aae"/>
<rect x="131.06" y="404.15" width="2.88" height="10.10" fill="#4a6aae"/>
<rect x="135.54" y="404.15" width="2.88" height="10.10" fill="#eef1dc"/>
<rect x="140.02" y="404.15" width="2.88" height="10.10" fill="#faf1b8"/>
<rect x="144.50" y="404.15" width="2.88" height="10.10" fill="#faf1b8"/>
<rect x="148.99" y="404.15" width="2.88" height="10.10" fill="#faf1b8"/>
<rect x="153.47" y="404.15" width="2.88" height="10.10" fill="#faf1b8"/>
<rect x="157.95" y="404.15" width="2.88" height="10.10" fill="#eef1dc"/>
<rect x="162.44" y="404.15" width="2.88" height="10.10" fill="#f6dc94"/>
<rect x="166.92" y="404.15" width="2.88" height="10.10" fill="#d3e4ef"/>
<rect x="171.40" y="404.15" width="2.88" height="10.10" fill="#faf1b8"/>
<rect x="175.89" y="404.15" width="2.88" height="10.10" fill="#eef1dc"/>
<rect x="180.37" y="404.15" width="2.88" height="10.10" fill="#f6dc94"/>
<rect x="184.85" y="404.15" width="2.88" height="10.10" fill="#4a6aae"/>
<rect x="189.33" y="404.15" width="2.88" height="10.10" fill="#4a6aae"/>
<rect x="193.82" y="404.15" width="2.88" height="10.10" fill="#faf1b8"/>
<rect x="198.30" y="404.15" width="2.88" height="10.10" fill="#eef1dc"/>
<rect x="202.78" y="404.15" width="2.88" height="10.10" fill="#eef1dc"/>
<rect x="207.27" y="404.15" width="2.88" height="10.10" fill="#eef1dc"/>
<rect x="217.80" y="404.15" width="2.88" height="10.10" fill="#efbd77"/>
<rect x="222.28" y="404.15" width="2.88" height="10.10" fill="#faf1b8"/>
<rect x="226.77" y="404.15" width="2.88" height="10.10" fill="#f6dc94"/>
<rect x="231.25" y="404.15" width="2.88" height="10.10" fill="#eba862"/>
<rect x="235.73" y="404.15" width="2.88" height="10.10" fill="#eef1dc"/>
<rect x="240.22" y="404.15" width="2.88" height="10.10" fill="#faf1b8"/>
<rect x="244.70" y="404.15" width="2.88" height="10.10" fill="#faf1b8"/>
<rect x="249.18" y="404.15" width="2.88" height="10.10" fill="#4a6aae"/>
<rect x="253.66" y="404.15" width="2.88" height="10.10" fill="#d3e4ef"/>
<rect x="264.20" y="404.15" width="2.88" height="10.10" fill="#eef1dc"/>
<rect x="268.68" y="404.15" width="2.88" height="10.10" fill="#4a6aae"/>
<rect x="273.16" y="404.15" width="2.88" height="10.10" fill="#4a6aae"/>
<rect x="277.65" y="404.15" width="2.88" height="10.10" fill="#faf1b8"/>
<rect x="282.13" y="404.15" width="2.88" height="10.10" fill="#4a6aae"/>
<rect x="286.61" y="404.15" width="2.88" height="10.10" fill="#4a6aae"/>
<rect x="291.10" y="404.15" width="2.88" height="10.10" fill="#4a6aae"/>
<rect x="295.58" y="404.15" width="2.88" height="10.10" fill="#4a6aae"/>
<rect x="306.11" y="404.15" width="2.88" height="10.10" fill="#4a6aae"/>
<rect x="310.59" y="404.15" width="2.88" height="10.10" fill="#4a6aae"/>
<rect x="315.08" y="404.15" width="2.88" height="10.10" fill="#4a6aae"/>
<rect x="319.56" y="404.15" width="2.88" height="10.10" fill="#4a6aae"/>
<rect x="324.04" y="404.15" width="2.88" height="10.10" fill="#4a6aae"/>
<rect x="328.53" y="404.15" width="2.88" height="10.10" fill="#4a6aae"/>
<rect x="333.01" y="404.15" width="2.88" height="10.10" fill="#4a6aae"/>
<rect x="337.49" y="404.15" width="2.88" height="10.10" fill="#4a6aae"/>
<rect x="341.97" y="404.15" width="2.88" height="10.10" fill="#4a6aae"/>
<rect x="77.26" y="421.75" width="2.88" height="10.10" fill="#efbd77"/>
<rect x="81.74" y="421.75" width="2.88" height="10.10" fill="#f6dc94"/>
<rect x="86.23" y="421.75" width="2.88" height="10.10" fill="#efbd77"/>
<rect x="90.71" y="421.75" width="2.88" height="10.10" fill="#4a6aae"/>
<rect x="95.19" y="421.75" width="2.88" height="10.10" fill="#faf1b8"/>
<rect x="99.67" y="421.75" width="2.88" height="10.10" fill="#f6dc94"/>
<rect x="104.16" y="421.75" width="2.88" height="10.10" fill="#f6dc94"/>
<rect x="108.64" y="421.75" width="2.88" height="10.10" fill="#f6dc94"/>
<rect x="113.12" y="421.75" width="2.88" height="10.10" fill="#faf1b8"/>
<rect x="117.61" y="421.75" width="2.88" height="10.10" fill="#faf1b8"/>
<rect x="122.09" y="421.75" width="2.88" height="10.10" fill="#f6dc94"/>
<rect x="126.57" y="421.75" width="2.88" height="10.10" fill="#4a6aae"/>
<rect x="131.06" y="421.75" width="2.88" height="10.10" fill="#4a6aae"/>
<rect x="135.54" y="421.75" width="2.88" height="10.10" fill="#efbd77"/>
<rect x="140.02" y="421.75" width="2.88" height="10.10" fill="#f6dc94"/>
<rect x="144.50" y="421.75" width="2.88" height="10.10" fill="#eba862"/>
<rect x="148.99" y="421.75" width="2.88" height="10.10" fill="#efbd77"/>
<rect x="153.47" y="421.75" width="2.88" height="10.10" fill="#eba862"/>
<rect x="157.95" y="421.75" width="2.88" height="10.10" fill="#eba862"/>
<rect x="162.44" y="421.75" width="2.88" height="10.10" fill="#faf1b8"/>
<rect x="166.92" y="421.75" width="2.88" height="10.10" fill="#f6dc94"/>
<rect x="171.40" y="421.75" width="2.88" height="10.10" fill="#eba862"/>
<rect x="175.89" y="421.75" width="2.88" height="10.10" fill="#eba862"/>
<rect x="180.37" y="421.75" width="2.88" height="10.10" fill="#efbd77"/>
<rect x="184.85" y="421.75" width="2.88" height="10.10" fill="#efbd77"/>
<rect x="189.33" y="421.75" width="2.88" height="10.10" fill="#efbd77"/>
<rect x="193.82" y="421.75" width="2.88" height="10.10" fill="#e08650"/>
<rect x="198.30" y="421.75" width="2.88" height="10.10" fill="#eba862"/>
<rect x="202.78" y="421.75" width="2.88" height="10.10" fill="#faf1b8"/>
<rect x="207.27" y="421.75" width="2.88" height="10.10" fill="#f6dc94"/>
<rect x="217.80" y="421.75" width="2.88" height="10.10" fill="#efbd77"/>
<rect x="222.28" y="421.75" width="2.88" height="10.10" fill="#f6dc94"/>
<rect x="226.77" y="421.75" width="2.88" height="10.10" fill="#efbd77"/>
<rect x="231.25" y="421.75" width="2.88" height="10.10" fill="#efbd77"/>
<rect x="235.73" y="421.75" width="2.88" height="10.10" fill="#efbd77"/>
<rect x="240.22" y="421.75" width="2.88" height="10.10" fill="#e08650"/>
<rect x="244.70" y="421.75" width="2.88" height="10.10" fill="#efbd77"/>
<rect x="249.18" y="421.75" width="2.88" height="10.10" fill="#efbd77"/>
<rect x="253.66" y="421.75" width="2.88" height="10.10" fill="#efbd77"/>
<rect x="264.20" y="421.75" width="2.88" height="10.10" fill="#efbd77"/>
<rect x="268.68" y="421.75" width="2.88" height="10.10" fill="#efbd77"/>
<rect x="273.16" y="421.75" width="2.88" height="10.10" fill="#4a6aae"/>
<rect x="277.65" y="421.75" width="2.88" height="10.10" fill="#faf1b8"/>
<rect x="282.13" y="421.75" width="2.88" height="10.10" fill="#efbd77"/>
<rect x="286.61" y="421.75" width="2.88" height="10.10" fill="#efbd77"/>
<rect x="291.10" y="421.75" width="2.88" height="10.10" fill="#f6dc94"/>
<rect x="295.58" y="421.75" width="2.88" height="10.10" fill="#efbd77"/>
<rect x="306.11" y="421.75" width="2.88" height="10.10" fill="#efbd77"/>
<rect x="310.59" y="421.75" width="2.88" height="10.10" fill="#f6dc94"/>
<rect x="315.08" y="421.75" width="2.88" height="10.10" fill="#efbd77"/>
<rect x="319.56" y="421.75" width="2.88" height="10.10" fill="#efbd77"/>
<rect x="324.04" y="421.75" width="2.88" height="10.10" fill="#eba862"/>
<rect x="328.53" y="421.75" width="2.88" height="10.10" fill="#4a6aae"/>
<rect x="333.01" y="421.75" width="2.88" height="10.10" fill="#eba862"/>
<rect x="337.49" y="421.75" width="2.88" height="10.10" fill="#faf1b8"/>
<rect x="341.97" y="421.75" width="2.88" height="10.10" fill="#bf2c24"/>
<rect x="77.26" y="433.75" width="2.88" height="10.10" fill="#e08650"/>
<rect x="81.74" y="433.75" width="2.88" height="10.10" fill="#e08650"/>
<rect x="86.23" y="433.75" width="2.88" height="10.10" fill="#e08650"/>
<rect x="90.71" y="433.75" width="2.88" height="10.10" fill="#eba862"/>
<rect x="95.19" y="433.75" width="2.88" height="10.10" fill="#f6dc94"/>
<rect x="99.67" y="433.75" width="2.88" height="10.10" fill="#e08650"/>
<rect x="104.16" y="433.75" width="2.88" height="10.10" fill="#e08650"/>
<rect x="108.64" y="433.75" width="2.88" height="10.10" fill="#4a6aae"/>
<rect x="113.12" y="433.75" width="2.88" height="10.10" fill="#f6dc94"/>
<rect x="117.61" y="433.75" width="2.88" height="10.10" fill="#eba862"/>
<rect x="122.09" y="433.75" width="2.88" height="10.10" fill="#4a6aae"/>
<rect x="126.57" y="433.75" width="2.88" height="10.10" fill="#4a6aae"/>
<rect x="131.06" y="433.75" width="2.88" height="10.10" fill="#e08650"/>
<rect x="135.54" y="433.75" width="2.88" height="10.10" fill="#f6dc94"/>
<rect x="140.02" y="433.75" width="2.88" height="10.10" fill="#eba862"/>
<rect x="144.50" y="433.75" width="2.88" height="10.10" fill="#efbd77"/>
<rect x="148.99" y="433.75" width="2.88" height="10.10" fill="#efbd77"/>
<rect x="153.47" y="433.75" width="2.88" height="10.10" fill="#eba862"/>
<rect x="157.95" y="433.75" width="2.88" height="10.10" fill="#e08650"/>
<rect x="162.44" y="433.75" width="2.88" height="10.10" fill="#f6dc94"/>
<rect x="166.92" y="433.75" width="2.88" height="10.10" fill="#eba862"/>
<rect x="171.40" y="433.75" width="2.88" height="10.10" fill="#e08650"/>
<rect x="175.89" y="433.75" width="2.88" height="10.10" fill="#faf1b8"/>
<rect x="180.37" y="433.75" width="2.88" height="10.10" fill="#eba862"/>
<rect x="184.85" y="433.75" width="2.88" height="10.10" fill="#e08650"/>
<rect x="189.33" y="433.75" width="2.88" height="10.10" fill="#eba862"/>
<rect x="193.82" y="433.75" width="2.88" height="10.10" fill="#efbd77"/>
<rect x="198.30" y="433.75" width="2.88" height="10.10" fill="#e08650"/>
<rect x="202.78" y="433.75" width="2.88" height="10.10" fill="#efbd77"/>
<rect x="207.27" y="433.75" width="2.88" height="10.10" fill="#eba862"/>
<rect x="217.80" y="433.75" width="2.88" height="10.10" fill="#eef1dc"/>
<rect x="222.28" y="433.75" width="2.88" height="10.10" fill="#f6dc94"/>
<rect x="226.77" y="433.75" width="2.88" height="10.10" fill="#e08650"/>
<rect x="231.25" y="433.75" width="2.88" height="10.10" fill="#eba862"/>
<rect x="235.73" y="433.75" width="2.88" height="10.10" fill="#e08650"/>
<rect x="240.22" y="433.75" width="2.88" height="10.10" fill="#faf1b8"/>
<rect x="244.70" y="433.75" width="2.88" height="10.10" fill="#e08650"/>
<rect x="249.18" y="433.75" width="2.88" height="10.10" fill="#e08650"/>
<rect x="253.66" y="433.75" width="2.88" height="10.10" fill="#eba862"/>
<rect x="264.20" y="433.75" width="2.88" height="10.10" fill="#e08650"/>
<rect x="268.68" y="433.75" width="2.88" height="10.10" fill="#eba862"/>
<rect x="273.16" y="433.75" width="2.88" height="10.10" fill="#bf2c24"/>
<rect x="277.65" y="433.75" width="2.88" height="10.10" fill="#e08650"/>
<rect x="282.13" y="433.75" width="2.88" height="10.10" fill="#eba862"/>
<rect x="286.61" y="433.75" width="2.88" height="10.10" fill="#eba862"/>
<rect x="291.10" y="433.75" width="2.88" height="10.10" fill="#eba862"/>
<rect x="295.58" y="433.75" width="2.88" height="10.10" fill="#eba862"/>
<rect x="306.11" y="433.75" width="2.88" height="10.10" fill="#eba862"/>
<rect x="310.59" y="433.75" width="2.88" height="10.10" fill="#eba862"/>
<rect x="315.08" y="433.75" width="2.88" height="10.10" fill="#e08650"/>
<rect x="319.56" y="433.75" width="2.88" height="10.10" fill="#e08650"/>
<rect x="324.04" y="433.75" width="2.88" height="10.10" fill="#e08650"/>
<rect x="328.53" y="433.75" width="2.88" height="10.10" fill="#eba862"/>
<rect x="333.01" y="433.75" width="2.88" height="10.10" fill="#e08650"/>
<rect x="337.49" y="433.75" width="2.88" height="10.10" fill="#e08650"/>
<rect x="341.97" y="433.75" width="2.88" height="10.10" fill="#bf2c24"/>
<rect x="77.26" y="445.75" width="2.88" height="10.10" fill="#e08650"/>
<rect x="81.74" y="445.75" width="2.88" height="10.10" fill="#e08650"/>
<rect x="86.23" y="445.75" width="2.88" height="10.10" fill="#e08650"/>
<rect x="90.71" y="445.75" width="2.88" height="10.10" fill="#f6dc94"/>
<rect x="95.19" y="445.75" width="2.88" height="10.10" fill="#eba862"/>
<rect x="99.67" y="445.75" width="2.88" height="10.10" fill="#eba862"/>
<rect x="104.16" y="445.75" width="2.88" height="10.10" fill="#eba862"/>
<rect x="108.64" y="445.75" width="2.88" height="10.10" fill="#eba862"/>
<rect x="113.12" y="445.75" width="2.88" height="10.10" fill="#e08650"/>
<rect x="117.61" y="445.75" width="2.88" height="10.10" fill="#e08650"/>
<rect x="122.09" y="445.75" width="2.88" height="10.10" fill="#e08650"/>
<rect x="126.57" y="445.75" width="2.88" height="10.10" fill="#bf2c24"/>
<rect x="131.06" y="445.75" width="2.88" height="10.10" fill="#d35a3a"/>
<rect x="135.54" y="445.75" width="2.88" height="10.10" fill="#eba862"/>
<rect x="140.02" y="445.75" width="2.88" height="10.10" fill="#e08650"/>
<rect x="144.50" y="445.75" width="2.88" height="10.10" fill="#d35a3a"/>
<rect x="148.99" y="445.75" width="2.88" height="10.10" fill="#e08650"/>
<rect x="153.47" y="445.75" width="2.88" height="10.10" fill="#e08650"/>
<rect x="157.95" y="445.75" width="2.88" height="10.10" fill="#e08650"/>
<rect x="162.44" y="445.75" width="2.88" height="10.10" fill="#e08650"/>
<rect x="166.92" y="445.75" width="2.88" height="10.10" fill="#e08650"/>
<rect x="171.40" y="445.75" width="2.88" height="10.10" fill="#d35a3a"/>
<rect x="175.89" y="445.75" width="2.88" height="10.10" fill="#e08650"/>
<rect x="180.37" y="445.75" width="2.88" height="10.10" fill="#e08650"/>
<rect x="184.85" y="445.75" width="2.88" height="10.10" fill="#f6dc94"/>
<rect x="189.33" y="445.75" width="2.88" height="10.10" fill="#efbd77"/>
<rect x="193.82" y="445.75" width="2.88" height="10.10" fill="#d35a3a"/>
<rect x="198.30" y="445.75" width="2.88" height="10.10" fill="#e08650"/>
<rect x="202.78" y="445.75" width="2.88" height="10.10" fill="#e08650"/>
<rect x="207.27" y="445.75" width="2.88" height="10.10" fill="#d35a3a"/>
<rect x="217.80" y="445.75" width="2.88" height="10.10" fill="#e08650"/>
<rect x="222.28" y="445.75" width="2.88" height="10.10" fill="#e08650"/>
<rect x="226.77" y="445.75" width="2.88" height="10.10" fill="#d35a3a"/>
<rect x="231.25" y="445.75" width="2.88" height="10.10" fill="#eba862"/>
<rect x="235.73" y="445.75" width="2.88" height="10.10" fill="#e08650"/>
<rect x="240.22" y="445.75" width="2.88" height="10.10" fill="#e08650"/>
<rect x="244.70" y="445.75" width="2.88" height="10.10" fill="#eba862"/>
<rect x="249.18" y="445.75" width="2.88" height="10.10" fill="#e08650"/>
<rect x="253.66" y="445.75" width="2.88" height="10.10" fill="#eba862"/>
<rect x="264.20" y="445.75" width="2.88" height="10.10" fill="#e08650"/>
<rect x="268.68" y="445.75" width="2.88" height="10.10" fill="#faf1b8"/>
<rect x="273.16" y="445.75" width="2.88" height="10.10" fill="#bf2c24"/>
<rect x="277.65" y="445.75" width="2.88" height="10.10" fill="#faf1b8"/>
<rect x="282.13" y="445.75" width="2.88" height="10.10" fill="#e08650"/>
<rect x="286.61" y="445.75" width="2.88" height="10.10" fill="#faf1b8"/>
<rect x="291.10" y="445.75" width="2.88" height="10.10" fill="#faf1b8"/>
<rect x="295.58" y="445.75" width="2.88" height="10.10" fill="#4a6aae"/>
<rect x="306.11" y="445.75" width="2.88" height="10.10" fill="#4a6aae"/>
<rect x="310.59" y="445.75" width="2.88" height="10.10" fill="#4a6aae"/>
<rect x="315.08" y="445.75" width="2.88" height="10.10" fill="#faf1b8"/>
<rect x="319.56" y="445.75" width="2.88" height="10.10" fill="#4a6aae"/>
<rect x="324.04" y="445.75" width="2.88" height="10.10" fill="#4a6aae"/>
<rect x="328.53" y="445.75" width="2.88" height="10.10" fill="#4a6aae"/>
<rect x="333.01" y="445.75" width="2.88" height="10.10" fill="#4a6aae"/>
<rect x="337.49" y="445.75" width="2.88" height="10.10" fill="#4a6aae"/>
<rect x="341.97" y="445.75" width="2.88" height="10.10" fill="#4a6aae"/>
<rect x="77.26" y="457.75" width="2.88" height="10.10" fill="#faf1b8"/>
<rect x="81.74" y="457.75" width="2.88" height="10.10" fill="#faf1b8"/>
<rect x="86.23" y="457.75" width="2.88" height="10.10" fill="#faf1b8"/>
<rect x="90.71" y="457.75" width="2.88" height="10.10" fill="#faf1b8"/>
<rect x="95.19" y="457.75" width="2.88" height="10.10" fill="#faf1b8"/>
<rect x="99.67" y="457.75" width="2.88" height="10.10" fill="#faf1b8"/>
<rect x="104.16" y="457.75" width="2.88" height="10.10" fill="#faf1b8"/>
<rect x="108.64" y="457.75" width="2.88" height="10.10" fill="#faf1b8"/>
<rect x="113.12" y="457.75" width="2.88" height="10.10" fill="#faf1b8"/>
<rect x="117.61" y="457.75" width="2.88" height="10.10" fill="#faf1b8"/>
<rect x="122.09" y="457.75" width="2.88" height="10.10" fill="#4a6aae"/>
<rect x="126.57" y="457.75" width="2.88" height="10.10" fill="#4a6aae"/>
<rect x="131.06" y="457.75" width="2.88" height="10.10" fill="#4a6aae"/>
<rect x="135.54" y="457.75" width="2.88" height="10.10" fill="#eef1dc"/>
<rect x="140.02" y="457.75" width="2.88" height="10.10" fill="#faf1b8"/>
<rect x="144.50" y="457.75" width="2.88" height="10.10" fill="#faf1b8"/>
<rect x="148.99" y="457.75" width="2.88" height="10.10" fill="#faf1b8"/>
<rect x="153.47" y="457.75" width="2.88" height="10.10" fill="#faf1b8"/>
<rect x="157.95" y="457.75" width="2.88" height="10.10" fill="#faf1b8"/>
<rect x="162.44" y="457.75" width="2.88" height="10.10" fill="#faf1b8"/>
<rect x="166.92" y="457.75" width="2.88" height="10.10" fill="#eef1dc"/>
<rect x="171.40" y="457.75" width="2.88" height="10.10" fill="#eef1dc"/>
<rect x="175.89" y="457.75" width="2.88" height="10.10" fill="#eef1dc"/>
<rect x="180.37" y="457.75" width="2.88" height="10.10" fill="#faf1b8"/>
<rect x="184.85" y="457.75" width="2.88" height="10.10" fill="#faf1b8"/>
<rect x="189.33" y="457.75" width="2.88" height="10.10" fill="#faf1b8"/>
<rect x="193.82" y="457.75" width="2.88" height="10.10" fill="#faf1b8"/>
<rect x="198.30" y="457.75" width="2.88" height="10.10" fill="#faf1b8"/>
<rect x="202.78" y="457.75" width="2.88" height="10.10" fill="#4a6aae"/>
<rect x="207.27" y="457.75" width="2.88" height="10.10" fill="#faf1b8"/>
<rect x="217.80" y="457.75" width="2.88" height="10.10" fill="#faf1b8"/>
<rect x="222.28" y="457.75" width="2.88" height="10.10" fill="#faf1b8"/>
<rect x="226.77" y="457.75" width="2.88" height="10.10" fill="#faf1b8"/>
<rect x="231.25" y="457.75" width="2.88" height="10.10" fill="#eef1dc"/>
<rect x="235.73" y="457.75" width="2.88" height="10.10" fill="#faf1b8"/>
<rect x="240.22" y="457.75" width="2.88" height="10.10" fill="#faf1b8"/>
<rect x="244.70" y="457.75" width="2.88" height="10.10" fill="#faf1b8"/>
<rect x="249.18" y="457.75" width="2.88" height="10.10" fill="#faf1b8"/>
<rect x="253.66" y="457.75" width="2.88" height="10.10" fill="#faf1b8"/>
<rect x="264.20" y="457.75" width="2.88" height="10.10" fill="#faf1b8"/>
<rect x="268.68" y="457.75" width="2.88" height="10.10" fill="#faf1b8"/>
<rect x="273.16" y="457.75" width="2.88" height="10.10" fill="#bf2c24"/>
<rect x="277.65" y="457.75" width="2.88" height="10.10" fill="#eef1dc"/>
<rect x="282.13" y="457.75" width="2.88" height="10.10" fill="#faf1b8"/>
<rect x="286.61" y="457.75" width="2.88" height="10.10" fill="#4a6aae"/>
<rect x="291.10" y="457.75" width="2.88" height="10.10" fill="#faf1b8"/>
<rect x="295.58" y="457.75" width="2.88" height="10.10" fill="#eef1dc"/>
<rect x="306.11" y="457.75" width="2.88" height="10.10" fill="#4a6aae"/>
<rect x="310.59" y="457.75" width="2.88" height="10.10" fill="#4a6aae"/>
<rect x="315.08" y="457.75" width="2.88" height="10.10" fill="#4a6aae"/>
<rect x="319.56" y="457.75" width="2.88" height="10.10" fill="#4a6aae"/>
<rect x="324.04" y="457.75" width="2.88" height="10.10" fill="#4a6aae"/>
<rect x="328.53" y="457.75" width="2.88" height="10.10" fill="#4a6aae"/>
<rect x="333.01" y="457.75" width="2.88" height="10.10" fill="#4a6aae"/>
<rect x="337.49" y="457.75" width="2.88" height="10.10" fill="#4a6aae"/>
<rect x="341.97" y="457.75" width="2.88" height="10.10" fill="#4a6aae"/>
<rect x="216.2" y="82.0" width="43.65" height="389.7" fill="none" stroke="#aa1219" stroke-width="1.85" stroke-linejoin="round"/>
<g fill="#1a1a1a" stroke="#1a1a1a" stroke-width="0.22">
<text x="350.6" y="80.5" font-size="10.1" textLength="40.2" lengthAdjust="spacingAndGlyphs">Cell.Type</text>
<text x="350.6" y="95.80" font-size="10">Kdr</text>
<text x="350.6" y="107.80" font-size="10">Foxo1</text>
<text x="350.6" y="119.80" font-size="10">Mpl</text>
<text x="350.6" y="131.80" font-size="10">Runx1</text>
<text x="350.6" y="143.80" font-size="10">Tek</text>
<text x="350.6" y="155.80" font-size="10">Rbpj</text>
<text x="350.6" y="167.80" font-size="10">Tal1</text>
<text x="350.6" y="184.75" font-size="10">Cebpa</text>
<text x="350.6" y="196.75" font-size="10">Il7ra</text>
<text x="350.6" y="208.75" font-size="10">Flk2</text>
<text x="350.6" y="220.75" font-size="10">Klf1</text>
<text x="350.6" y="232.75" font-size="10">Csf2r</text>
<text x="350.6" y="244.75" font-size="10">Rag2</text>
<text x="350.6" y="256.75" font-size="10">Vwf</text>
<text x="350.6" y="268.75" font-size="10">Ccr9</text>
<text x="350.6" y="280.75" font-size="10">Cd32</text>
<text x="350.6" y="292.75" font-size="10">Ebf1</text>
<text x="350.6" y="304.75" font-size="10">Rag1</text>
<text x="350.6" y="316.75" font-size="10">Epor</text>
<text x="350.6" y="328.75" font-size="10">Pax5</text>
<text x="350.6" y="347.30" font-size="10">Gata1</text>
<text x="350.6" y="359.30" font-size="10">Gata2</text>
<text x="350.6" y="377.00" font-size="10">Pu1</text>
<text x="350.6" y="389.00" font-size="10">Irf8</text>
<text x="350.6" y="401.00" font-size="10">Csf1r</text>
<text x="350.6" y="413.00" font-size="10">Notch1</text>
<text x="350.6" y="430.75" font-size="10">Kit</text>
<text x="350.6" y="442.75" font-size="10">Myb</text>
<text x="350.6" y="454.75" font-size="10">Cd34</text>
<text x="350.6" y="466.75" font-size="10">Csf3r</text>
</g>
<text x="27.4" y="98.6" font-size="10.1" font-style="italic" fill="#55a350" stroke="#55a350" stroke-width="0.2">Kdr</text>
<text x="28.3" y="147.1" font-size="10.1" font-style="italic" fill="#55a350" stroke="#55a350" stroke-width="0.2">Tek</text>
<text x="26.2" y="200.6" font-size="10.1" font-style="italic" fill="#4266ab" stroke="#4266ab" stroke-width="0.2">Il7ra</text>
<text x="27.2" y="212.7" font-size="10.1" font-style="italic" fill="#4266ab" stroke="#4266ab" stroke-width="0.2">Flk2</text>
<path d="M48.3 95.5L75.9 91.5M48.3 143.4L75.9 139.4M47.7 197.5L75.9 194.2M47.7 207.3L75.9 204.2" stroke="#000" stroke-width="1.2" fill="none"/>
<path d="M379.4 343.8L392.5 342.1M382.1 355.3L395.4 353.6M382.1 397.5L395.4 395.2" stroke="#1c2758" stroke-width="1.3" fill="none"/>
<text x="398.8" y="344.6" font-size="10.2" font-style="italic" fill="#d23a35" stroke="#d23a35" stroke-width="0.15">Gata1</text>
<text x="399" y="356.5" font-size="10.2" font-style="italic" fill="#d23a35" stroke="#d23a35" stroke-width="0.15">Gata2</text>
<text x="400.2" y="395" font-size="10.2" font-style="italic" fill="#1a1a1a" stroke="#1a1a1a" stroke-width="0.2">Csf1r</text>
<g font-size="10.3" font-weight="bold" fill="#000" stroke="#000" stroke-width="0.35" text-anchor="middle"><text x="152.2" y="490.8">I</text><text x="240.6" y="490.8">II</text><text x="285" y="490.8">III</text><text x="327" y="490.8">IV</text></g>
<defs><linearGradient id="lg" x1="0" y1="1" x2="0" y2="0">
<stop offset="0.0000" stop-color="#4a6aae"/>
<stop offset="0.1667" stop-color="#90b0d4"/>
<stop offset="0.3333" stop-color="#e2eeef"/>
<stop offset="0.5000" stop-color="#fbf4c0"/>
<stop offset="0.6667" stop-color="#f5da90"/>
<stop offset="0.8333" stop-color="#e4925a"/>
<stop offset="1.0000" stop-color="#c0342a"/>
</linearGradient></defs>
<rect x="408.65" y="71.3" width="14.45" height="223.5" fill="url(#lg)"/>
<text x="429.2" y="89.90" font-size="10.3" fill="#1a1a1a">1.04</text>
<text x="429.2" y="119.76" font-size="10.3" fill="#1a1a1a">1.02</text>
<text x="429.2" y="149.61" font-size="10.3" fill="#1a1a1a">1</text>
<text x="429.2" y="179.47" font-size="10.3" fill="#1a1a1a">0.98</text>
<text x="429.2" y="209.33" font-size="10.3" fill="#1a1a1a">0.96</text>
<text x="429.2" y="239.19" font-size="10.3" fill="#1a1a1a">0.94</text>
<text x="429.2" y="269.04" font-size="10.3" fill="#1a1a1a">0.92</text>
<text x="429.2" y="298.90" font-size="10.3" fill="#1a1a1a">0.9</text>
<text x="467.8" y="72.6" font-size="10.1" fill="#1a1a1a" textLength="41" lengthAdjust="spacingAndGlyphs">Cell.Type</text>
<rect x="467.8" y="80.8" width="13.2" height="12.6" fill="#4b8b4b"/>
<rect x="467.8" y="98.1" width="13.2" height="12.6" fill="#7a1212"/>
<text x="485.8" y="90.3" font-size="7.9" fill="#1a1a1a">YFP+</text>
<text x="485.8" y="107.6" font-size="7.9" fill="#1a1a1a">YFP-</text>
<text x="11.8" y="523.3" font-size="18.2" font-weight="bold" fill="#000" stroke="#000" stroke-width="0.6" textLength="10.7" lengthAdjust="spacingAndGlyphs">B</text>
<g stroke="#b07d12" stroke-width="0.8">
<rect x="121" y="523.1" width="63.85" height="25.7" fill="#ba8a24"/>
<rect x="186.2" y="523.1" width="64.1" height="25.7" fill="#ba8a24"/>
<rect x="121" y="551" width="63.85" height="25.2" fill="#ba8a24"/>
<rect x="121" y="578.1" width="63.85" height="25.7" fill="#ba8a24"/>
</g>
<rect x="186.2" y="551" width="64.1" height="25.2" fill="#e7dccb"/>
<rect x="186.2" y="578.1" width="64.1" height="25.7" fill="#f1ece6"/>
<g font-weight="bold" fill="#000" stroke="#000" stroke-width="0.3">
<text x="205.3" y="541.3" font-size="10.2">YFP</text>
<text x="227.6" y="537.2" font-size="7">+</text>
<text x="141.2" y="569.1" font-size="10.3" font-style="italic">Il7r</text>
<text x="160" y="564.6" font-size="7">+</text>
<text x="142.4" y="596.3" font-size="10.3" font-style="italic">Il7r</text>
<text x="161.2" y="591.5" font-size="6">-</text>
<text x="218.35" y="566.6" font-size="10.4" text-anchor="middle">6</text>
<text x="217.9" y="596.3" font-size="10.4" text-anchor="middle">41</text>
</g>
</g>
<rect x="0.9" y="0.9" width="518.2" height="613.2" fill="none" stroke="#000" stroke-width="1.8"/>
</svg>
</div>
</body></html>
